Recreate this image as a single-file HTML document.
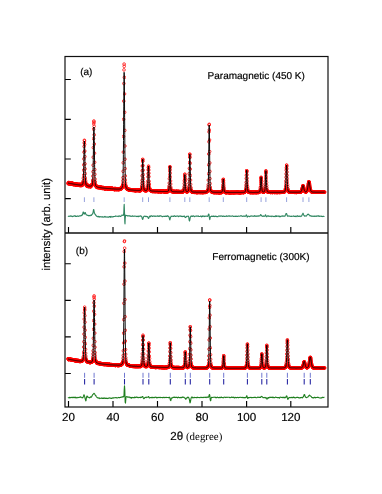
<!DOCTYPE html>
<html><head><meta charset="utf-8"><title>Neutron diffraction</title>
<style>
html,body{margin:0;padding:0;background:#fff}
svg{display:block}
text{font-family:"Liberation Sans",sans-serif;fill:#000;stroke:#000;stroke-width:0.18px;text-rendering:geometricPrecision}
.t{font-size:11.6px}
.s{font-size:10px}
.o{fill:none;stroke:none;marker-start:url(#m);marker-mid:url(#m);marker-end:url(#m)}
.c{fill:none;stroke:#000;stroke-width:0.95;stroke-linejoin:round}
</style></head><body>
<svg width="382" height="494" viewBox="0 0 382 494">
<defs><marker id="m" markerWidth="4" markerHeight="4" refX="2" refY="2" markerUnits="userSpaceOnUse"><circle cx="2" cy="2" r="1.35" fill="none" stroke="#f00" stroke-width="0.75"/></marker></defs>
<rect width="382" height="494" fill="#fff"/>
<polyline class="o" points="68,183.2 68.12,183.7 68.25,183.5 68.38,182.6 68.5,182.8 68.62,183.7 68.75,182.4 68.88,183.7 69,183.7 69.12,183.2 69.25,182.9 69.38,182.9 69.5,182.9 69.62,183.2 69.75,183.4 69.88,183.5 70,184.2 70.12,183.9 70.25,183.6 70.38,184.3 70.5,183.1 70.62,183 70.75,183.7 70.88,182.9 71,182.9 71.12,183.6 71.25,183.6 71.38,184.3 71.5,183.9 71.62,183.7 71.75,183.7 71.88,183.4 72,183 72.12,183.3 72.25,184.1 72.38,183.4 72.5,183.7 72.62,183.1 72.75,184.4 72.88,183.4 73,183.6 73.12,184.6 73.25,184 73.38,184.6 73.5,184.3 73.62,184.5 73.75,183.5 73.88,184.2 74,184.2 74.12,184.7 74.25,184 74.38,184.4 74.5,183.5 74.62,184.1 74.75,184 74.88,183.7 75,184.8 75.12,184.1 75.25,185.1 75.38,184.5 75.5,184.6 75.62,184.6 75.75,184.7 75.88,183.9 76,184.4 76.12,184.1 76.25,184.4 76.38,183.9 76.5,185.3 76.62,184.1 76.75,184.9 76.88,184.3 77,185.2 77.12,184.9 77.25,184.1 77.38,185.2 77.5,185.4 77.62,185.3 77.75,184.8 77.88,184.2 78,184.3 78.12,185.4 78.25,184.9 78.38,184.3 78.5,185.4 78.62,185.1 78.75,185 78.88,184.7 79,184.7 79.12,184.5 79.25,184.2 79.38,185.5 79.5,184.9 79.62,185 79.75,184.7 79.88,185.3 80,184.2 80.12,184.8 80.25,184.3 80.38,184.4 80.5,185.7 80.62,185.2 80.75,184.9 80.88,185 81,185.6 81.12,184.7 81.25,185.1 81.38,185.2 81.5,184.7 81.62,184.9 81.75,185.3 81.88,185.5 82,184.3 82.12,185.4 82.25,183.9 82.38,185 82.5,185 82.62,183.8 82.75,183.9 82.88,184.2 83,182.3 83.12,182.3 83.25,181 83.38,178.2 83.5,175.3 83.62,170.2 83.75,164.8 83.88,158.9 84,152.2 84.12,146.5 84.25,142.9 84.38,140.3 84.5,140.9 84.62,144.4 84.75,151 84.88,156.6 85,163.8 85.12,168.8 85.25,173.6 85.38,177.9 85.5,180.4 85.62,182 85.75,183 85.88,184.4 86,184.2 86.12,185.3 86.25,184.2 86.38,185 86.5,185.2 86.62,186 86.75,185 86.88,185.9 87,185.8 87.12,185.9 87.25,185.9 87.38,186.4 87.5,185.5 87.62,185.6 87.75,185.4 87.88,185.2 88,185.5 88.12,186.6 88.25,186.5 88.38,185.4 88.5,186.2 88.62,186 88.75,186.2 88.88,186.3 89,185.8 89.12,186.8 89.25,186 89.38,186.3 89.5,186.3 89.62,185.6 89.75,185.5 89.88,186 90,186.5 90.12,186.6 90.25,186.5 90.38,185.5 90.5,186.7 90.62,186.5 90.75,186.6 90.88,186.1 91,186.6 91.12,185.3 91.25,185.2 91.38,185.1 91.5,185.4 91.62,185.3 91.75,185.1 91.88,185.5 92,184.6 92.12,185.1 92.25,184.1 92.38,184.3 92.5,182.4 92.62,181.4 92.75,180.1 92.88,176.1 93,171.7 93.12,165.2 93.25,157.2 93.38,147.6 93.5,138.7 93.62,129.2 93.75,123.8 93.88,121 94,122.2 94.12,126.3 94.25,134.8 94.38,144.1 94.5,153.2 94.62,162.3 94.75,169.6 94.88,174.3 95,179 95.12,181.6 95.25,182.4 95.38,184.5 95.5,185.4 95.62,184.9 95.75,185.7 95.88,186.1 96,186.2 96.12,185.6 96.25,186.6 96.38,186.6 96.5,187 96.62,187.1 96.75,186.5 96.88,187.1 97,187.4 97.12,187.5 97.25,186.5 97.38,186.3 97.5,187.3 97.62,186.7 97.75,187.2 97.88,187.8 98,187 98.12,186.9 98.25,187.2 98.38,187.5 98.5,186.7 98.62,187.2 98.75,186.9 98.88,187.6 99,187.9 99.12,187.3 99.25,187.3 99.38,187.6 99.5,187.1 99.62,187.2 99.75,187.3 99.88,187.5 100,187 100.12,188 100.25,187.8 100.38,187.4 100.5,187.1 100.62,188.1 100.75,187.2 100.88,187.2 101,187.2 101.12,187.2 101.25,188.4 101.38,187.5 101.5,187.5 101.62,188.3 101.75,188 101.88,187.4 102,187.8 102.12,188.5 102.25,187.7 102.38,188.2 102.5,187.4 102.62,188.3 102.75,188.4 102.88,188.5 103,188.2 103.12,187.8 103.25,187.4 103.38,188.1 103.5,188.4 103.62,187.6 103.75,187.7 103.88,188.1 104,188.5 104.12,188.7 104.25,187.6 104.38,187.7 104.5,188.6 104.62,188.4 104.75,188.5 104.88,188.9 105,188.8 105.12,188.7 105.25,188.6 105.38,188.1 105.5,188.5 105.62,187.8 105.75,188.7 105.88,188.7 106,188.6 106.12,188.2 106.25,188.2 106.38,188.2 106.5,187.7 106.62,188.9 106.75,188.4 106.88,188.2 107,188.5 107.12,188.7 107.25,188.3 107.38,188.9 107.5,189 107.62,188.3 107.75,188 107.88,188.9 108,189.2 108.12,188 108.25,188.8 108.38,189 108.5,189.1 108.62,188 108.75,188 108.88,189.3 109,188 109.12,188.1 109.25,188.7 109.38,188.5 109.5,189 109.62,188.2 109.75,189.2 109.88,188.3 110,189 110.12,188.1 110.25,188.6 110.38,188 110.5,188.4 110.62,188.5 110.75,189 110.88,188.7 111,188.1 111.12,189.4 111.25,189.3 111.38,189.4 111.5,188.4 111.62,188.6 111.75,188.4 111.88,188.3 112,188.2 112.12,188.8 112.25,188.3 112.38,188.4 112.5,189.4 112.62,188.8 112.75,188.4 112.88,189.1 113,188.6 113.12,188.9 113.25,188.6 113.38,188.9 113.5,189.1 113.62,189 113.75,188.8 113.88,189.3 114,189.5 114.12,188.5 114.25,188.5 114.38,188.4 114.5,189.6 114.62,189.6 114.75,188.6 114.88,189.6 115,188.6 115.12,189 115.25,189 115.38,189.6 115.5,188.4 115.62,188.8 115.75,189.2 115.88,188.5 116,188.7 116.12,189 116.25,189.6 116.38,189.4 116.5,189.5 116.62,189.4 116.75,189.4 116.88,189.6 117,189.3 117.12,189.4 117.25,188.8 117.38,188.6 117.5,189.4 117.62,188.6 117.75,189.7 117.88,189.2 118,188.9 118.12,189.7 118.25,188.6 118.38,189.1 118.5,188.5 118.62,189.7 118.75,189.2 118.88,189.5 119,188.7 119.12,189.4 119.25,189.3 119.38,189.2 119.5,189.6 119.62,188.9 119.75,188.8 119.88,189.2 120,189.4 120.12,188.7 120.25,189.1 120.38,188.4 120.5,188.8 120.62,189.1 120.75,188.1 120.88,188.9 121,187.9 121.12,189.1 121.25,188.4 121.38,188.2 121.5,188.5 121.62,188.1 121.75,188.2 121.88,187.2 122,187.6 122.12,187.4 122.25,187.5 122.38,185.9 122.5,185.9 122.62,185.2 122.75,183.6 122.88,180.7 123,177.6 123.12,171.3 123.25,162.8 123.38,152.1 123.5,136.4 123.62,119.3 123.75,101.1 123.88,83.5 124,69.9 124.12,64.1 124.25,66.3 124.38,77.4 124.5,93.9 124.62,112.3 124.75,130.4 124.88,146 125,159.2 125.12,168.6 125.25,175.9 125.38,179.9 125.5,182.9 125.62,185.1 125.75,185.8 125.88,186.3 126,187.5 126.12,187.3 126.25,188.2 126.38,188.3 126.5,188.1 126.62,188.6 126.75,187.9 126.88,188.5 127,189.2 127.12,188.9 127.25,189 127.38,189.2 127.5,189.3 127.62,189.3 127.75,189.1 127.88,188.9 128,189.1 128.12,189.1 128.25,189.3 128.38,190.1 128.5,189.3 128.62,189.5 128.75,189.4 128.88,189.7 129,190.2 129.12,190.2 129.25,189.5 129.38,189.4 129.5,190.2 129.62,189.8 129.75,190 129.88,189.2 130,190.3 130.12,189.6 130.25,189.9 130.38,189.5 130.5,189.8 130.62,190.3 130.75,190.4 130.88,189.9 131,190.3 131.12,189.9 131.25,189.8 131.38,190.1 131.5,189.6 131.62,189.8 131.75,190.3 131.88,190.4 132,189.5 132.12,190.4 132.25,190.5 132.38,190 132.5,189.5 132.62,190.4 132.75,189.8 132.88,190.3 133,190 133.12,190.3 133.25,189.9 133.38,190.1 133.5,190.2 133.62,190.4 133.75,189.8 133.88,190.8 134,190 134.12,190 134.25,189.9 134.38,189.7 134.5,190.2 134.62,190.6 134.75,190.5 134.88,189.9 135,189.8 135.12,190.1 135.25,190.6 135.38,190.3 135.5,190.9 135.62,190.5 135.75,190.5 135.88,190.7 136,190.7 136.12,190.1 136.25,190 136.38,190.3 136.5,190.3 136.62,189.9 136.75,190.3 136.88,190.6 137,189.9 137.12,189.9 137.25,190 137.38,190.1 137.5,191 137.62,189.8 137.75,190 137.88,190 138,190.4 138.12,189.8 138.25,190.3 138.38,190 138.5,190.1 138.62,190.8 138.75,190 138.88,190.5 139,190.3 139.12,190.3 139.25,190.8 139.38,189.9 139.5,190.9 139.62,190.8 139.75,190.5 139.88,189.7 140,190.5 140.12,190.4 140.25,190.6 140.38,189.8 140.5,190.7 140.62,190.6 140.75,189.6 140.88,189.7 141,189.3 141.12,190.1 141.25,190 141.38,189.7 141.5,188.5 141.62,187.5 141.75,185.9 141.88,183.3 142,180.4 142.12,175.8 142.25,170.7 142.38,166 142.5,161.2 142.62,159.5 142.75,159.3 142.88,161.1 143,165.5 143.12,170.2 143.25,174.6 143.38,178.6 143.5,182.2 143.62,184.9 143.75,186.9 143.88,188.2 144,189.6 144.12,189.2 144.25,190.2 144.38,190.2 144.5,190.5 144.62,190 144.75,189.6 144.88,190.6 145,190 145.12,189.9 145.25,190.7 145.38,190.6 145.5,190 145.62,190.1 145.75,191 145.88,190.1 146,190.7 146.12,190 146.25,190.8 146.38,189.9 146.5,190.4 146.62,189.7 146.75,190.3 146.88,190.6 147,189.5 147.12,189.5 147.25,189.7 147.38,188.8 147.5,187.3 147.62,186.1 147.75,183.6 147.88,181.1 148,176.8 148.12,173.6 148.25,169.9 148.38,167.4 148.5,166.1 148.62,167.4 148.75,170 148.88,173.2 149,176.6 149.12,181.3 149.25,184 149.38,185.7 149.5,188 149.62,188.5 149.75,189.5 149.88,190.4 150,190.1 150.12,190.1 150.25,190.2 150.38,190.1 150.5,190.3 150.62,190.4 150.75,190.3 150.88,190.2 151,190.8 151.12,190.5 151.25,191.2 151.38,191.4 151.5,190.6 151.62,191 151.75,191 151.88,190.5 152,190.5 152.12,191.5 152.25,191 152.38,191.4 152.5,190.5 152.62,191.2 152.75,191.5 152.88,191.5 153,190.5 153.12,191.1 153.25,191 153.38,191.4 153.5,190.6 153.62,190.9 153.75,191.5 153.88,191.1 154,191.1 154.12,191.7 154.25,191 154.38,190.6 154.5,191.1 154.62,190.8 154.75,190.7 154.88,191.3 155,191.8 155.12,191.3 155.25,191.4 155.38,191 155.5,191.3 155.62,191.6 155.75,191.4 155.88,191.6 156,191.3 156.12,190.9 156.25,191.4 156.38,191.3 156.5,190.9 156.62,191.4 156.75,191.7 156.88,190.9 157,191.4 157.12,191.6 157.25,191.2 157.38,191.1 157.5,191.2 157.62,191.4 157.75,191.6 157.88,191.4 158,190.9 158.12,191.7 158.25,191.9 158.38,190.9 158.5,191.1 158.62,191 158.75,191.8 158.88,191.9 159,190.8 159.12,191.2 159.25,191 159.38,191.4 159.5,191.9 159.62,190.9 159.75,191 159.88,191.4 160,191.4 160.12,191.7 160.25,191.4 160.38,191 160.5,191.3 160.62,192 160.75,191.7 160.88,191 161,191.8 161.12,191.2 161.25,191.8 161.38,190.9 161.5,191.9 161.62,191.1 161.75,191.4 161.88,191.7 162,191.5 162.12,191.1 162.25,191.1 162.38,191.2 162.5,191 162.62,191.2 162.75,191.1 162.88,191.5 163,191.3 163.12,191.6 163.25,191.3 163.38,191 163.5,191.3 163.62,191.8 163.75,191.2 163.88,191.4 164,191.8 164.12,191.4 164.25,192 164.38,192 164.5,191.3 164.62,191.8 164.75,191.2 164.88,191.1 165,191.5 165.12,191.6 165.25,192 165.38,191.1 165.5,191.8 165.62,191.5 165.75,191.1 165.88,192.1 166,191.7 166.12,191.1 166.25,192 166.38,191 166.5,191 166.62,191.3 166.75,192 166.88,190.9 167,191.9 167.12,191.6 167.25,190.9 167.38,191.5 167.5,191.3 167.62,191.4 167.75,191.6 167.88,191.5 168,191.8 168.12,190.8 168.25,191.4 168.38,190.9 168.5,191.1 168.62,190.9 168.75,190.5 168.88,188.8 169,187.6 169.12,186 169.25,183.1 169.38,178.8 169.5,175.4 169.62,170.8 169.75,167.7 169.88,166.6 170,166.9 170.12,169.5 170.25,173.2 170.38,177.3 170.5,180.9 170.62,184 170.75,187.2 170.88,188.7 171,189.9 171.12,190.7 171.25,190.4 171.38,190.7 171.5,190.9 171.62,191 171.75,191.6 171.88,191.2 172,191.2 172.12,191.6 172.25,191.1 172.38,191.1 172.5,191.8 172.62,191.9 172.75,191.4 172.88,191.8 173,191.1 173.12,191.5 173.25,191.7 173.38,191.4 173.5,191.5 173.62,191.8 173.75,191.8 173.88,191.3 174,192 174.12,191.3 174.25,192.3 174.38,191.4 174.5,191.5 174.62,191.4 174.75,192.3 174.88,191.5 175,191.9 175.12,192.3 175.25,192.3 175.38,191.3 175.5,191.8 175.62,191.9 175.75,192 175.88,191.6 176,191.6 176.12,191.3 176.25,191.3 176.38,191.9 176.5,191.4 176.62,191.5 176.75,191.7 176.88,191.4 177,191.3 177.12,192.3 177.25,191.8 177.38,191.5 177.5,192.1 177.62,191.3 177.75,191.6 177.88,192.4 178,192.3 178.12,192 178.25,191.4 178.38,191.7 178.5,191.4 178.62,191.6 178.75,191.4 178.88,191.5 179,192 179.12,191.5 179.25,191.5 179.38,192.3 179.5,191.7 179.62,191.7 179.75,191.4 179.88,192.2 180,192.1 180.12,191.9 180.25,192 180.38,191.5 180.5,191.6 180.62,192 180.75,192.4 180.88,192.2 181,192 181.12,191.9 181.25,191.3 181.38,192.3 181.5,191.4 181.62,191.5 181.75,192 181.88,192.2 182,192.1 182.12,191.8 182.25,191.5 182.38,191.3 182.5,192.1 182.62,192.2 182.75,191.4 182.88,192.1 183,191.5 183.12,191.4 183.25,191.5 183.38,190.9 183.5,191.1 183.62,190.5 183.75,190.5 183.88,189.4 184,188.4 184.12,186.6 184.25,183.6 184.38,180.8 184.5,178.8 184.62,176 184.75,174.3 184.88,174.4 185,176.9 185.12,178.9 185.25,181.1 185.38,184.3 185.5,186.6 185.62,188.3 185.75,190 185.88,190.8 186,190.5 186.12,190.8 186.25,191.2 186.38,191.8 186.5,191.6 186.62,191.8 186.75,191.6 186.88,191.2 187,191.9 187.12,191 187.25,191.7 187.38,191.2 187.5,191.5 187.62,191.9 187.75,191.4 187.88,190.9 188,191.2 188.12,191.3 188.25,190.5 188.38,190.5 188.5,189.8 188.62,189.6 188.75,188.2 188.88,186.4 189,183.2 189.12,179.5 189.25,173.7 189.38,168.4 189.5,162.4 189.62,156.8 189.75,154 189.88,154.7 190,157.5 190.12,163.4 190.25,169.1 190.38,175.5 190.5,180.1 190.62,184.3 190.75,187.4 190.88,188.3 191,190.1 191.12,190.5 191.25,190.8 191.38,191 191.5,190.9 191.62,191.2 191.75,191.6 191.88,191.2 192,191.8 192.12,192.2 192.25,192.2 192.38,192.2 192.5,192.1 192.62,191.5 192.75,192.4 192.88,191.6 193,192.3 193.12,192.3 193.25,192.1 193.38,192 193.5,191.7 193.62,192 193.75,191.8 193.88,191.7 194,191.7 194.12,192.4 194.25,192.5 194.38,191.7 194.5,191.6 194.62,191.9 194.75,191.7 194.88,191.8 195,192.2 195.12,192 195.25,192.1 195.38,191.8 195.5,192.3 195.62,191.9 195.75,192 195.88,192.1 196,192.6 196.12,191.9 196.25,192.4 196.38,192 196.5,192.6 196.62,192.1 196.75,192.2 196.88,192.6 197,192.4 197.12,191.8 197.25,191.8 197.38,192.7 197.5,191.7 197.62,192 197.75,192.6 197.88,191.7 198,191.9 198.12,191.9 198.25,191.8 198.38,192.2 198.5,192.3 198.62,192 198.75,191.8 198.88,192.5 199,192.5 199.12,192.3 199.25,191.9 199.38,192.3 199.5,192.3 199.62,192.1 199.75,192.6 199.88,192.1 200,192.2 200.12,191.8 200.25,192.3 200.38,192.5 200.5,192.4 200.62,192 200.75,192.7 200.88,192.4 201,192.1 201.12,192.1 201.25,192.5 201.38,191.9 201.5,192.4 201.62,192.4 201.75,192.2 201.88,192.6 202,192.2 202.12,192.2 202.25,192 202.38,192.6 202.5,192 202.62,192.4 202.75,192.1 202.88,192.6 203,192.6 203.12,191.7 203.25,192.7 203.38,192.3 203.5,191.8 203.62,192.2 203.75,191.7 203.88,192.2 204,191.9 204.12,192 204.25,192 204.38,192.2 204.5,192.4 204.62,192.5 204.75,192 204.88,192.2 205,191.6 205.12,192 205.25,192.5 205.38,191.7 205.5,192.4 205.62,192.2 205.75,191.8 205.88,192.2 206,191.7 206.12,192.3 206.25,191.5 206.38,191.5 206.5,192 206.62,191.7 206.75,191.3 206.88,191.6 207,191.3 207.12,191.5 207.25,191.5 207.38,191.5 207.5,190.6 207.62,190.8 207.75,190.9 207.88,189.8 208,189.1 208.12,186.9 208.25,184.8 208.38,180.1 208.5,173.8 208.62,164.8 208.75,154 208.88,141.7 209,131.9 209.12,124.9 209.25,124.3 209.38,129.9 209.5,139.9 209.62,151.5 209.75,162.9 209.88,171.4 210,178.6 210.12,183.6 210.25,187.1 210.38,188.7 210.5,189.7 210.62,190.6 210.75,190.9 210.88,190.8 211,190.8 211.12,191.3 211.25,191.8 211.38,191.6 211.5,191.2 211.62,191.6 211.75,191.6 211.88,191.9 212,191.9 212.12,192.3 212.25,191.8 212.38,191.9 212.5,192.1 212.62,192.4 212.75,192.3 212.88,192.1 213,192.4 213.12,192.1 213.25,192.6 213.38,192 213.5,191.8 213.62,192.5 213.75,192 213.88,192.5 214,192.3 214.12,192.2 214.25,191.9 214.38,192.5 214.5,191.9 214.62,192.7 214.75,192.6 214.88,192.1 215,191.9 215.12,192.6 215.25,192.3 215.38,192 215.5,192.3 215.62,192.1 215.75,192.2 215.88,192.4 216,192.7 216.12,192.6 216.25,192 216.38,192.3 216.5,192.3 216.62,192.8 216.75,192 216.88,192.3 217,192.7 217.12,192.2 217.25,192.1 217.38,192.4 217.5,192.2 217.62,192.7 217.75,192 217.88,192.1 218,192 218.12,192.5 218.25,192.2 218.38,192.7 218.5,192.7 218.62,192.7 218.75,192.1 218.88,191.9 219,192.2 219.12,192.8 219.25,192.6 219.38,191.9 219.5,192.5 219.62,192.7 219.75,192.8 219.88,192.5 220,192.7 220.12,192.6 220.25,192.2 220.38,192 220.5,192.5 220.62,192 220.75,192.2 220.88,192.7 221,192.3 221.12,192.3 221.25,192.6 221.38,192 221.5,192.6 221.62,192.5 221.75,192 221.88,191.9 222,191.6 222.12,192.1 222.25,191.1 222.38,190.3 222.5,190.2 222.62,188.6 222.75,186.9 222.88,184.8 223,182 223.12,180.2 223.25,179.5 223.38,179.2 223.5,180.8 223.62,183 223.75,185.2 223.88,187.2 224,188.4 224.12,189.8 224.25,191.3 224.38,191.1 224.5,191.8 224.62,191.6 224.75,192.4 224.88,191.8 225,192.1 225.12,192.2 225.25,192.4 225.38,192.6 225.5,192.5 225.62,192.2 225.75,191.9 225.88,192.5 226,192.7 226.12,191.9 226.25,192.6 226.38,192.1 226.5,192.3 226.62,192.4 226.75,192.5 226.88,192.8 227,192.5 227.12,192.3 227.25,192.6 227.38,192.4 227.5,192.3 227.62,192.3 227.75,192.4 227.88,192.2 228,192.2 228.12,192.1 228.25,192.4 228.38,192.2 228.5,192.7 228.62,192.7 228.75,192.3 228.88,192.5 229,192.8 229.12,192.3 229.25,192.5 229.38,192.4 229.5,192.6 229.62,192.8 229.75,192.1 229.88,192.8 230,192.6 230.12,192.7 230.25,192.5 230.38,192.7 230.5,192.3 230.62,192.6 230.75,192.2 230.88,192.4 231,192.6 231.12,192.2 231.25,192.1 231.38,192.7 231.5,192.7 231.62,192.6 231.75,192.3 231.88,192.6 232,192.1 232.12,192.6 232.25,192.5 232.38,192.5 232.5,192.4 232.62,192.2 232.75,192.6 232.88,192.4 233,192.6 233.12,192.3 233.25,192.1 233.38,192.5 233.5,192.5 233.62,192.8 233.75,192.8 233.88,192.1 234,192.7 234.12,192.2 234.25,192.6 234.38,192.3 234.5,192.3 234.62,192.4 234.75,192.5 234.88,192.6 235,192.5 235.12,192.6 235.25,192.3 235.38,192.6 235.5,192.3 235.62,192.5 235.75,192.4 235.88,192.5 236,192 236.12,192.4 236.25,192.2 236.38,192.3 236.5,192.1 236.62,192.6 236.75,192.8 236.88,192.3 237,192.1 237.12,192.5 237.25,192.1 237.38,192.7 237.5,192.1 237.62,192.3 237.75,192.4 237.88,192.1 238,192.3 238.12,192.2 238.25,192.6 238.38,192.8 238.5,192.3 238.62,192.7 238.75,192.1 238.88,192.5 239,192.4 239.12,192.2 239.25,192.7 239.38,192.6 239.5,192.1 239.62,192.2 239.75,192.7 239.88,192.8 240,192.5 240.12,192.7 240.25,192.8 240.38,192.6 240.5,192.5 240.62,192.2 240.75,192.3 240.88,192.5 241,192.7 241.12,192.2 241.25,192.3 241.38,192 241.5,192.5 241.62,192.3 241.75,192.6 241.88,192.2 242,192.5 242.12,192.5 242.25,192.3 242.38,192.1 242.5,192.3 242.62,192.5 242.75,192.1 242.88,192 243,192.3 243.12,192.1 243.25,192.5 243.38,192.5 243.5,192.6 243.62,192.5 243.75,192.4 243.88,192 244,192.5 244.12,192.4 244.25,192.4 244.38,192.3 244.5,192.4 244.62,191.9 244.75,192.2 244.88,192 245,191.8 245.12,191.6 245.25,191.3 245.38,191.3 245.5,190.8 245.62,190.1 245.75,189.2 245.88,187.4 246,185.1 246.12,182.4 246.25,178.5 246.38,175.3 246.5,172.1 246.62,170.5 246.75,170.8 246.88,171.6 247,174.8 247.12,178.3 247.25,181.4 247.38,184.6 247.5,186.8 247.62,188.5 247.75,189.9 247.88,190.5 248,191.1 248.12,191.4 248.25,192.1 248.38,191.7 248.5,191.7 248.62,192.3 248.75,191.8 248.88,192.4 249,192.4 249.12,192.3 249.25,192.1 249.38,192 249.5,191.9 249.62,191.9 249.75,192.1 249.88,192.2 250,192.6 250.12,192.3 250.25,192.7 250.38,192.5 250.5,192 250.62,192.3 250.75,192.1 250.88,192 251,192.7 251.12,192.2 251.25,192.1 251.38,192 251.5,192.5 251.62,192.3 251.75,192 251.88,192.5 252,192.2 252.12,192.6 252.25,192.3 252.38,192.4 252.5,192.3 252.62,192.5 252.75,192.7 252.88,192.6 253,192 253.12,192.4 253.25,192.2 253.38,192.1 253.5,192.1 253.62,192.2 253.75,192.7 253.88,192.5 254,192.6 254.12,192.5 254.25,192.2 254.38,192.3 254.5,192.3 254.62,192.2 254.75,192.3 254.88,192.6 255,192 255.12,192.2 255.25,192.3 255.38,192.5 255.5,192.5 255.62,192.5 255.75,192.1 255.88,192.1 256,192.2 256.12,192.2 256.25,192.5 256.38,192.7 256.5,192.5 256.62,192 256.75,192.2 256.88,192.5 257,192.6 257.12,192.4 257.25,192.2 257.38,192.2 257.5,192.4 257.62,192.5 257.75,192.2 257.88,192 258,191.9 258.12,192 258.25,192.5 258.38,192.3 258.5,192.6 258.62,191.9 258.75,192.1 258.88,192.4 259,192.2 259.12,191.8 259.25,192 259.38,192.1 259.5,192.1 259.62,191.8 259.75,191.4 259.88,191.7 260,190.9 260.12,190.3 260.25,189.1 260.38,187.3 260.5,185.5 260.62,183.2 260.75,180.9 260.88,178.9 261,177.6 261.12,177.2 261.25,178 261.38,180.1 261.5,181.7 261.62,184.1 261.75,186.7 261.88,188.2 262,189.5 262.12,190.3 262.25,191.1 262.38,191.2 262.5,191.9 262.62,192 262.75,191.7 262.88,191.5 263,192.2 263.12,191.8 263.25,192 263.38,192.2 263.5,192.1 263.62,192.2 263.75,191.9 263.88,192.1 264,191.8 264.12,191.6 264.25,191.7 264.38,191.5 264.5,191.6 264.62,191.3 264.75,190.3 264.88,189.4 265,188.2 265.12,186.4 265.25,184.3 265.38,181.2 265.5,177.9 265.62,174.6 265.75,172.1 265.88,170.7 266,171.3 266.12,173 266.25,176.6 266.38,179.5 266.5,182.5 266.62,185.4 266.75,187.6 266.88,189.4 267,189.9 267.12,190.7 267.25,191.6 267.38,191.8 267.5,191.8 267.62,191.9 267.75,191.7 267.88,192.2 268,192.2 268.12,192 268.25,191.8 268.38,191.9 268.5,192 268.62,192 268.75,191.9 268.88,192.1 269,192.1 269.12,192 269.25,192.1 269.38,192.1 269.5,192.1 269.62,192.3 269.75,192.2 269.88,192 270,192.4 270.12,192.3 270.25,192.2 270.38,192.4 270.5,192.4 270.62,192.5 270.75,192.5 270.88,192.4 271,192.4 271.12,192.1 271.25,192.4 271.38,192.1 271.5,192.1 271.62,192 271.75,192.2 271.88,192 272,192.4 272.12,192.5 272.25,192.5 272.38,192.1 272.5,192.4 272.62,192.5 272.75,192 272.88,192.1 273,192.2 273.12,192.3 273.25,192.1 273.38,192.3 273.5,192.2 273.62,192.4 273.75,192.3 273.88,192.4 274,192.1 274.12,192.4 274.25,192.5 274.38,192.4 274.5,192 274.62,192.6 274.75,192.3 274.88,192.2 275,192.3 275.12,192.3 275.25,192.3 275.38,192.1 275.5,192.2 275.62,192.2 275.75,192.5 275.88,192.3 276,192 276.12,192.3 276.25,192.1 276.38,192 276.5,192.6 276.62,192.2 276.75,192.3 276.88,192.2 277,192 277.12,192.5 277.25,192.6 277.38,192.1 277.5,192.2 277.62,192.2 277.75,192.1 277.88,192.4 278,192.5 278.12,192.4 278.25,192.4 278.38,192 278.5,192.1 278.62,192.3 278.75,192.4 278.88,192.2 279,192.2 279.12,192.5 279.25,192 279.38,192.1 279.5,192.1 279.62,192.6 279.75,192.1 279.88,192 280,192.2 280.12,192.3 280.25,192 280.38,192.4 280.5,192.1 280.62,192.4 280.75,192 280.88,192.5 281,192 281.12,192.4 281.25,192.4 281.38,192.1 281.5,192 281.62,192.2 281.75,192.2 281.88,192.2 282,192.3 282.12,192.1 282.25,192.2 282.38,192.1 282.5,192.1 282.62,192.1 282.75,191.9 282.88,192 283,192 283.12,191.9 283.25,192.2 283.38,191.8 283.5,191.8 283.62,192 283.75,191.9 283.88,191.8 284,191.8 284.12,191.9 284.25,191.9 284.38,192 284.5,191.9 284.62,191.6 284.75,191.5 284.88,191.3 285,190.9 285.12,190.9 285.25,189.7 285.38,188.9 285.5,187.8 285.62,186 285.75,183.5 285.88,180.9 286,177.3 286.12,173.9 286.25,170.2 286.38,167.8 286.5,165.4 286.62,165.1 286.75,166.5 286.88,168.8 287,172 287.12,175.4 287.25,178.6 287.38,181.6 287.5,184.6 287.62,186.5 287.75,188.6 287.88,189.2 288,190.2 288.12,190.6 288.25,190.9 288.38,191.4 288.5,191.3 288.62,191.9 288.75,191.8 288.88,191.7 289,192 289.12,192 289.25,191.8 289.38,192.1 289.5,192.2 289.62,192 289.75,191.9 289.88,192.2 290,192.3 290.12,192 290.25,191.8 290.38,192.3 290.5,192.2 290.62,192 290.75,192.2 290.88,192 291,192.4 291.12,192 291.25,192 291.38,191.9 291.5,192.1 291.62,192.4 291.75,192 291.88,192.1 292,192.4 292.12,191.9 292.25,192.1 292.38,192.4 292.5,192 292.62,192.4 292.75,192.4 292.88,192 293,192.2 293.12,192.2 293.25,192.3 293.38,192.1 293.5,192.1 293.62,192.1 293.75,192.1 293.88,192 294,192.4 294.12,192.4 294.25,192.1 294.38,192.3 294.5,192.2 294.62,192.1 294.75,192.1 294.88,192.5 295,192.1 295.12,192.2 295.25,192.4 295.38,192.1 295.5,192.4 295.62,192 295.75,192.3 295.88,192.4 296,192.4 296.12,192.5 296.25,192.3 296.38,192.5 296.5,192.1 296.62,192.2 296.75,192 296.88,192 297,192.2 297.12,192.3 297.25,192.3 297.38,191.9 297.5,192.4 297.62,192 297.75,192.1 297.88,192.3 298,192.4 298.12,192.3 298.25,192.1 298.38,192.1 298.5,192.3 298.62,192.1 298.75,192.3 298.88,192.3 299,192.1 299.12,192.3 299.25,192.1 299.38,192.2 299.5,192.2 299.62,192 299.75,192.1 299.88,192.1 300,192.1 300.12,191.8 300.25,192.3 300.38,192.2 300.5,191.7 300.62,192.2 300.75,191.9 300.88,191.6 301,191.9 301.12,191.5 301.25,191.5 301.38,191.3 301.5,190.9 301.62,190.3 301.75,190.3 301.88,189.8 302,189.4 302.12,188.6 302.25,188.3 302.38,187.7 302.5,186.9 302.62,186.5 302.75,186.1 302.88,185.6 303,185.7 303.12,185.8 303.25,185.9 303.38,186.6 303.5,186.9 303.62,187.5 303.75,188 303.88,188.6 304,189.3 304.12,189.6 304.25,190.1 304.38,190.4 304.5,190.8 304.62,191.3 304.75,191.2 304.88,191.4 305,191.6 305.12,191.4 305.25,191.9 305.38,191.7 305.5,191.6 305.62,191.9 305.75,191.9 305.88,191.8 306,192 306.12,191.5 306.25,191.7 306.38,191.7 306.5,191.7 306.62,191.4 306.75,191.3 306.88,190.9 307,190.8 307.12,190.4 307.25,190.2 307.38,189.6 307.5,189 307.62,188.5 307.75,187.3 307.88,186.9 308,185.9 308.12,185.2 308.25,184.1 308.38,183.4 308.5,182.9 308.62,182 308.75,181.7 308.88,181.6 309,181.9 309.12,181.9 309.25,182.7 309.38,183 309.5,183.8 309.62,184.8 309.75,185.7 309.88,186.6 310,187.4 310.12,187.9 310.25,188.8 310.38,189.4 310.5,189.8 310.62,190.4 310.75,190.8 310.88,190.9 311,191.4 311.12,191.2 311.25,191.4 311.38,191.8 311.5,191.6 311.62,191.8 311.75,191.9 311.88,191.7 312,192 312.12,192.1 312.25,191.8 312.38,191.9 312.5,192.1 312.62,192.2 312.75,192.2 312.88,192 313,192 313.12,192 313.25,191.9 313.38,192.1 313.5,192 313.62,191.9 313.75,192 313.88,191.9 314,192.1 314.12,192.2 314.25,192.2 314.38,192.3 314.5,192.3 314.62,192.2 314.75,192.3 314.88,192.1 315,192.3 315.12,192.1 315.25,192.2 315.38,192.4 315.5,192.2 315.62,192.2 315.75,192.3 315.88,192.1 316,192.3 316.12,192 316.25,192.1 316.38,192 316.5,192.1 316.62,192.4 316.75,192 316.88,192.1 317,192.2 317.12,192.3 317.25,192.3 317.38,192.1 317.5,192.1 317.62,192.3 317.75,192 317.88,192 318,192.1 318.12,192.2 318.25,192.4 318.38,192.3 318.5,192.2 318.62,192.2 318.75,192.3 318.88,192.2 319,192.1 319.12,192 319.25,192.1 319.38,192.3 319.5,192.3 319.62,192.3 319.75,192 319.88,192.4 320,192.1 320.12,192.4 320.25,192.2 320.38,192.2 320.5,192.3 320.62,192.3 320.75,192.3 320.88,192.1 321,192.2 321.12,192.1 321.25,192 321.38,192 321.5,192.2 321.62,192.1 321.75,192.3 321.88,192 322,192 322.12,192.4 322.25,192.1 322.38,192.2 322.5,192.1 322.62,192.1 322.75,192.2 322.88,192.3 323,192 323.12,192.3 323.25,192.4 323.38,192.2 323.5,192.1 323.62,192.1 323.75,192.1 323.88,192.1 324,192.3 324.12,192 324.25,192.3 324.38,192.3 324.5,192 324.62,192"/>
<polyline class="c" points="68,183 68.12,183 68.25,183.1 68.38,183.1 68.5,183.1 68.62,183.1 68.75,183.2 68.88,183.2 69,183.2 69.12,183.2 69.25,183.3 69.38,183.3 69.5,183.3 69.62,183.3 69.75,183.4 69.88,183.4 70,183.4 70.12,183.4 70.25,183.5 70.38,183.5 70.5,183.5 70.62,183.5 70.75,183.6 70.88,183.6 71,183.6 71.12,183.6 71.25,183.6 71.38,183.7 71.5,183.7 71.62,183.7 71.75,183.7 71.88,183.8 72,183.8 72.12,183.8 72.25,183.8 72.38,183.9 72.5,183.9 72.62,183.9 72.75,183.9 72.88,183.9 73,184 73.12,184 73.25,184 73.38,184 73.5,184.1 73.62,184.1 73.75,184.1 73.88,184.1 74,184.1 74.12,184.2 74.25,184.2 74.38,184.2 74.5,184.2 74.62,184.2 74.75,184.3 74.88,184.3 75,184.3 75.12,184.3 75.25,184.4 75.38,184.4 75.5,184.4 75.62,184.4 75.75,184.4 75.88,184.5 76,184.5 76.12,184.5 76.25,184.5 76.38,184.5 76.5,184.6 76.62,184.6 76.75,184.6 76.88,184.6 77,184.6 77.12,184.6 77.25,184.7 77.38,184.7 77.5,184.7 77.62,184.7 77.75,184.7 77.88,184.7 78,184.8 78.12,184.8 78.25,184.8 78.38,184.8 78.5,184.8 78.62,184.8 78.75,184.9 78.88,184.9 79,184.9 79.12,184.9 79.25,184.9 79.38,184.9 79.5,184.9 79.62,184.9 79.75,185 79.88,185 80,185 80.12,185 80.25,185 80.38,185 80.5,185 80.62,185 80.75,185 80.88,185 81,185 81.12,185 81.25,185 81.38,185 81.5,184.9 81.62,184.9 81.75,184.9 81.88,184.9 82,184.8 82.12,184.8 82.25,184.7 82.38,184.6 82.5,184.5 82.62,184.3 82.75,184.1 82.88,183.7 83,183.1 83.12,182.1 83.25,180.6 83.38,178.4 83.5,175.2 83.62,170.9 83.75,165.6 83.88,159.6 84,153.3 84.12,147.4 84.25,143 84.38,141 84.5,141.9 84.62,145.5 84.75,150.9 84.88,157.2 85,163.5 85.12,169.1 85.25,173.8 85.38,177.5 85.5,180.1 85.62,181.9 85.75,183.1 85.88,183.9 86,184.4 86.12,184.7 86.25,184.9 86.38,185.1 86.5,185.2 86.62,185.3 86.75,185.4 86.88,185.5 87,185.6 87.12,185.6 87.25,185.7 87.38,185.7 87.5,185.8 87.62,185.8 87.75,185.9 87.88,185.9 88,185.9 88.12,185.9 88.25,186 88.38,186 88.5,186 88.62,186 88.75,186.1 88.88,186.1 89,186.1 89.12,186.1 89.25,186.1 89.38,186.1 89.5,186.1 89.62,186.2 89.75,186.2 89.88,186.2 90,186.2 90.12,186.2 90.25,186.2 90.38,186.1 90.5,186.1 90.62,186.1 90.75,186.1 90.88,186.1 91,186.1 91.12,186 91.25,186 91.38,185.9 91.5,185.9 91.62,185.8 91.75,185.7 91.88,185.6 92,185.4 92.12,185.2 92.25,184.9 92.38,184.3 92.5,183.5 92.62,182.2 92.75,180.2 92.88,177.1 93,172.8 93.12,167.1 93.25,160.1 93.38,152 93.5,143.5 93.62,135.6 93.75,129.7 93.88,127 94,128.2 94.12,133 94.25,140.3 94.38,148.7 94.5,157.1 94.62,164.7 94.75,171 94.88,175.8 95,179.4 95.12,181.8 95.25,183.4 95.38,184.4 95.5,185.1 95.62,185.5 95.75,185.8 95.88,186 96,186.2 96.12,186.3 96.25,186.4 96.38,186.5 96.5,186.6 96.62,186.7 96.75,186.8 96.88,186.8 97,186.9 97.12,187 97.25,187 97.38,187.1 97.5,187.1 97.62,187.1 97.75,187.2 97.88,187.2 98,187.2 98.12,187.3 98.25,187.3 98.38,187.3 98.5,187.4 98.62,187.4 98.75,187.4 98.88,187.4 99,187.5 99.12,187.5 99.25,187.5 99.38,187.5 99.5,187.5 99.62,187.6 99.75,187.6 99.88,187.6 100,187.6 100.12,187.6 100.25,187.7 100.38,187.7 100.5,187.7 100.62,187.7 100.75,187.7 100.88,187.8 101,187.8 101.12,187.8 101.25,187.8 101.38,187.8 101.5,187.8 101.62,187.8 101.75,187.9 101.88,187.9 102,187.9 102.12,187.9 102.25,187.9 102.38,187.9 102.5,188 102.62,188 102.75,188 102.88,188 103,188 103.12,188 103.25,188 103.38,188 103.5,188.1 103.62,188.1 103.75,188.1 103.88,188.1 104,188.1 104.12,188.1 104.25,188.1 104.38,188.2 104.5,188.2 104.62,188.2 104.75,188.2 104.88,188.2 105,188.2 105.12,188.2 105.25,188.2 105.38,188.3 105.5,188.3 105.62,188.3 105.75,188.3 105.88,188.3 106,188.3 106.12,188.3 106.25,188.3 106.38,188.4 106.5,188.4 106.62,188.4 106.75,188.4 106.88,188.4 107,188.4 107.12,188.4 107.25,188.4 107.38,188.4 107.5,188.5 107.62,188.5 107.75,188.5 107.88,188.5 108,188.5 108.12,188.5 108.25,188.5 108.38,188.5 108.5,188.5 108.62,188.6 108.75,188.6 108.88,188.6 109,188.6 109.12,188.6 109.25,188.6 109.38,188.6 109.5,188.6 109.62,188.6 109.75,188.6 109.88,188.7 110,188.7 110.12,188.7 110.25,188.7 110.38,188.7 110.5,188.7 110.62,188.7 110.75,188.7 110.88,188.7 111,188.7 111.12,188.8 111.25,188.8 111.38,188.8 111.5,188.8 111.62,188.8 111.75,188.8 111.88,188.8 112,188.8 112.12,188.8 112.25,188.8 112.38,188.9 112.5,188.9 112.62,188.9 112.75,188.9 112.88,188.9 113,188.9 113.12,188.9 113.25,188.9 113.38,188.9 113.5,188.9 113.62,188.9 113.75,188.9 113.88,189 114,189 114.12,189 114.25,189 114.38,189 114.5,189 114.62,189 114.75,189 114.88,189 115,189 115.12,189 115.25,189 115.38,189 115.5,189 115.62,189 115.75,189.1 115.88,189.1 116,189.1 116.12,189.1 116.25,189.1 116.38,189.1 116.5,189.1 116.62,189.1 116.75,189.1 116.88,189.1 117,189.1 117.12,189.1 117.25,189.1 117.38,189.1 117.5,189.1 117.62,189.1 117.75,189.1 117.88,189.1 118,189.1 118.12,189.1 118.25,189.1 118.38,189.1 118.5,189.1 118.62,189.1 118.75,189.1 118.88,189.1 119,189.1 119.12,189.1 119.25,189.1 119.38,189 119.5,189 119.62,189 119.75,189 119.88,189 120,188.9 120.12,188.9 120.25,188.9 120.38,188.9 120.5,188.8 120.62,188.8 120.75,188.7 120.88,188.7 121,188.6 121.12,188.6 121.25,188.5 121.38,188.4 121.5,188.3 121.62,188.2 121.75,188 121.88,187.9 122,187.7 122.12,187.4 122.25,187.1 122.38,186.8 122.5,186.2 122.62,185.3 122.75,184 122.88,181.8 123,178.3 123.12,172.9 123.25,165.1 123.38,154.3 123.5,140.5 123.62,124.2 123.75,106.9 123.88,90.6 124,78.1 124.12,72.3 124.25,74.9 124.38,85 124.5,100.1 124.62,117.4 124.75,134.3 124.88,149.2 125,161.2 125.12,170.2 125.25,176.6 125.38,180.8 125.5,183.4 125.62,185.1 125.75,186.1 125.88,186.8 126,187.2 126.12,187.6 126.25,187.9 126.38,188.1 126.5,188.3 126.62,188.4 126.75,188.6 126.88,188.7 127,188.8 127.12,188.9 127.25,189 127.38,189.1 127.5,189.1 127.62,189.2 127.75,189.3 127.88,189.3 128,189.4 128.12,189.4 128.25,189.5 128.38,189.5 128.5,189.5 128.62,189.6 128.75,189.6 128.88,189.6 129,189.7 129.12,189.7 129.25,189.7 129.38,189.7 129.5,189.8 129.62,189.8 129.75,189.8 129.88,189.8 130,189.8 130.12,189.9 130.25,189.9 130.38,189.9 130.5,189.9 130.62,189.9 130.75,189.9 130.88,190 131,190 131.12,190 131.25,190 131.38,190 131.5,190 131.62,190 131.75,190.1 131.88,190.1 132,190.1 132.12,190.1 132.25,190.1 132.38,190.1 132.5,190.1 132.62,190.1 132.75,190.1 132.88,190.2 133,190.2 133.12,190.2 133.25,190.2 133.38,190.2 133.5,190.2 133.62,190.2 133.75,190.2 133.88,190.2 134,190.2 134.12,190.2 134.25,190.2 134.38,190.3 134.5,190.3 134.62,190.3 134.75,190.3 134.88,190.3 135,190.3 135.12,190.3 135.25,190.3 135.38,190.3 135.5,190.3 135.62,190.3 135.75,190.3 135.88,190.3 136,190.3 136.12,190.3 136.25,190.4 136.38,190.4 136.5,190.4 136.62,190.4 136.75,190.4 136.88,190.4 137,190.4 137.12,190.4 137.25,190.4 137.38,190.4 137.5,190.4 137.62,190.4 137.75,190.4 137.88,190.4 138,190.4 138.12,190.4 138.25,190.4 138.38,190.4 138.5,190.4 138.62,190.4 138.75,190.4 138.88,190.4 139,190.4 139.12,190.4 139.25,190.4 139.38,190.4 139.5,190.4 139.62,190.3 139.75,190.3 139.88,190.3 140,190.3 140.12,190.3 140.25,190.2 140.38,190.2 140.5,190.2 140.62,190.1 140.75,190.1 140.88,190 141,189.9 141.12,189.7 141.25,189.5 141.38,189.1 141.5,188.4 141.62,187.3 141.75,185.7 141.88,183.2 142,179.9 142.12,175.7 142.25,170.9 142.38,166.1 142.5,161.9 142.62,159.4 142.75,159.1 142.88,161.3 143,165.2 143.12,170 143.25,174.8 143.38,179.2 143.5,182.7 143.62,185.3 143.75,187.1 143.88,188.3 144,189 144.12,189.5 144.25,189.8 144.38,189.9 144.5,190 144.62,190.1 144.75,190.2 144.88,190.3 145,190.3 145.12,190.3 145.25,190.4 145.38,190.4 145.5,190.4 145.62,190.4 145.75,190.4 145.88,190.4 146,190.4 146.12,190.4 146.25,190.4 146.38,190.4 146.5,190.3 146.62,190.3 146.75,190.2 146.88,190.1 147,190 147.12,189.8 147.25,189.3 147.38,188.7 147.5,187.6 147.62,185.9 147.75,183.6 147.88,180.6 148,177.1 148.12,173.3 148.25,169.7 148.38,167.2 148.5,166.2 148.62,167.2 148.75,169.8 148.88,173.3 149,177.1 149.12,180.7 149.25,183.7 149.38,186 149.5,187.7 149.62,188.8 149.75,189.5 149.88,189.9 150,190.2 150.12,190.4 150.25,190.5 150.38,190.6 150.5,190.6 150.62,190.7 150.75,190.7 150.88,190.8 151,190.8 151.12,190.8 151.25,190.9 151.38,190.9 151.5,190.9 151.62,190.9 151.75,191 151.88,191 152,191 152.12,191 152.25,191 152.38,191 152.5,191 152.62,191.1 152.75,191.1 152.88,191.1 153,191.1 153.12,191.1 153.25,191.1 153.38,191.1 153.5,191.1 153.62,191.1 153.75,191.1 153.88,191.2 154,191.2 154.12,191.2 154.25,191.2 154.38,191.2 154.5,191.2 154.62,191.2 154.75,191.2 154.88,191.2 155,191.2 155.12,191.2 155.25,191.2 155.38,191.2 155.5,191.2 155.62,191.3 155.75,191.3 155.88,191.3 156,191.3 156.12,191.3 156.25,191.3 156.38,191.3 156.5,191.3 156.62,191.3 156.75,191.3 156.88,191.3 157,191.3 157.12,191.3 157.25,191.3 157.38,191.3 157.5,191.3 157.62,191.3 157.75,191.3 157.88,191.3 158,191.3 158.12,191.4 158.25,191.4 158.38,191.4 158.5,191.4 158.62,191.4 158.75,191.4 158.88,191.4 159,191.4 159.12,191.4 159.25,191.4 159.38,191.4 159.5,191.4 159.62,191.4 159.75,191.4 159.88,191.4 160,191.4 160.12,191.4 160.25,191.4 160.38,191.4 160.5,191.4 160.62,191.4 160.75,191.4 160.88,191.4 161,191.4 161.12,191.5 161.25,191.5 161.38,191.5 161.5,191.5 161.62,191.5 161.75,191.5 161.88,191.5 162,191.5 162.12,191.5 162.25,191.5 162.38,191.5 162.5,191.5 162.62,191.5 162.75,191.5 162.88,191.5 163,191.5 163.12,191.5 163.25,191.5 163.38,191.5 163.5,191.5 163.62,191.5 163.75,191.5 163.88,191.5 164,191.5 164.12,191.5 164.25,191.5 164.38,191.5 164.5,191.5 164.62,191.5 164.75,191.5 164.88,191.5 165,191.5 165.12,191.5 165.25,191.5 165.38,191.5 165.5,191.5 165.62,191.5 165.75,191.5 165.88,191.5 166,191.5 166.12,191.5 166.25,191.5 166.38,191.5 166.5,191.5 166.62,191.5 166.75,191.5 166.88,191.5 167,191.5 167.12,191.4 167.25,191.4 167.38,191.4 167.5,191.4 167.62,191.3 167.75,191.3 167.88,191.3 168,191.2 168.12,191.2 168.25,191.1 168.38,191 168.5,190.8 168.62,190.4 168.75,189.9 168.88,189 169,187.6 169.12,185.4 169.25,182.5 169.38,178.8 169.5,174.7 169.62,170.7 169.75,167.5 169.88,166 170,166.7 170.12,169.3 170.25,173.1 170.38,177.2 170.5,181.1 170.62,184.4 170.75,186.8 170.88,188.5 171,189.6 171.12,190.3 171.25,190.7 171.38,191 171.5,191.1 171.62,191.2 171.75,191.3 171.88,191.4 172,191.4 172.12,191.4 172.25,191.5 172.38,191.5 172.5,191.5 172.62,191.6 172.75,191.6 172.88,191.6 173,191.6 173.12,191.6 173.25,191.7 173.38,191.7 173.5,191.7 173.62,191.7 173.75,191.7 173.88,191.7 174,191.7 174.12,191.7 174.25,191.7 174.38,191.8 174.5,191.8 174.62,191.8 174.75,191.8 174.88,191.8 175,191.8 175.12,191.8 175.25,191.8 175.38,191.8 175.5,191.8 175.62,191.8 175.75,191.8 175.88,191.8 176,191.8 176.12,191.8 176.25,191.8 176.38,191.8 176.5,191.8 176.62,191.8 176.75,191.8 176.88,191.8 177,191.9 177.12,191.9 177.25,191.9 177.38,191.9 177.5,191.9 177.62,191.9 177.75,191.9 177.88,191.9 178,191.9 178.12,191.9 178.25,191.9 178.38,191.9 178.5,191.9 178.62,191.9 178.75,191.9 178.88,191.9 179,191.9 179.12,191.9 179.25,191.9 179.38,191.9 179.5,191.9 179.62,191.9 179.75,191.9 179.88,191.9 180,191.9 180.12,191.9 180.25,191.9 180.38,191.9 180.5,191.9 180.62,191.9 180.75,191.9 180.88,191.9 181,191.9 181.12,191.9 181.25,191.9 181.38,191.9 181.5,191.9 181.62,191.8 181.75,191.8 181.88,191.8 182,191.8 182.12,191.8 182.25,191.8 182.38,191.8 182.5,191.8 182.62,191.7 182.75,191.7 182.88,191.7 183,191.6 183.12,191.6 183.25,191.5 183.38,191.4 183.5,191.2 183.62,190.8 183.75,190.3 183.88,189.4 184,188 184.12,186.1 184.25,183.7 184.38,180.9 184.5,178.1 184.62,175.8 184.75,174.5 184.88,174.6 185,176.2 185.12,178.7 185.25,181.5 185.38,184.2 185.5,186.5 185.62,188.3 185.75,189.5 185.88,190.4 186,190.9 186.12,191.1 186.25,191.3 186.38,191.4 186.5,191.5 186.62,191.5 186.75,191.5 186.88,191.5 187,191.5 187.12,191.5 187.25,191.5 187.38,191.5 187.5,191.5 187.62,191.4 187.75,191.4 187.88,191.3 188,191.2 188.12,191.1 188.25,191 188.38,190.7 188.5,190.3 188.62,189.6 188.75,188.3 188.88,186.4 189,183.4 189.12,179.3 189.25,174.1 189.38,168 189.5,161.9 189.62,156.8 189.75,154 189.88,154.3 190,157.7 190.12,163.1 190.25,169.3 190.38,175.2 190.5,180.3 190.62,184.2 190.75,186.9 190.88,188.7 191,189.8 191.12,190.5 191.25,190.9 191.38,191.1 191.5,191.3 191.62,191.4 191.75,191.5 191.88,191.6 192,191.6 192.12,191.7 192.25,191.7 192.38,191.8 192.5,191.8 192.62,191.9 192.75,191.9 192.88,191.9 193,191.9 193.12,191.9 193.25,192 193.38,192 193.5,192 193.62,192 193.75,192 193.88,192 194,192 194.12,192.1 194.25,192.1 194.38,192.1 194.5,192.1 194.62,192.1 194.75,192.1 194.88,192.1 195,192.1 195.12,192.1 195.25,192.1 195.38,192.1 195.5,192.1 195.62,192.1 195.75,192.1 195.88,192.1 196,192.2 196.12,192.2 196.25,192.2 196.38,192.2 196.5,192.2 196.62,192.2 196.75,192.2 196.88,192.2 197,192.2 197.12,192.2 197.25,192.2 197.38,192.2 197.5,192.2 197.62,192.2 197.75,192.2 197.88,192.2 198,192.2 198.12,192.2 198.25,192.2 198.38,192.2 198.5,192.2 198.62,192.2 198.75,192.2 198.88,192.2 199,192.2 199.12,192.2 199.25,192.2 199.38,192.2 199.5,192.2 199.62,192.2 199.75,192.2 199.88,192.2 200,192.2 200.12,192.2 200.25,192.2 200.38,192.2 200.5,192.2 200.62,192.2 200.75,192.2 200.88,192.2 201,192.2 201.12,192.2 201.25,192.2 201.38,192.2 201.5,192.2 201.62,192.2 201.75,192.2 201.88,192.2 202,192.2 202.12,192.2 202.25,192.2 202.38,192.2 202.5,192.2 202.62,192.2 202.75,192.2 202.88,192.2 203,192.2 203.12,192.2 203.25,192.2 203.38,192.2 203.5,192.2 203.62,192.2 203.75,192.2 203.88,192.2 204,192.2 204.12,192.2 204.25,192.2 204.38,192.1 204.5,192.1 204.62,192.1 204.75,192.1 204.88,192.1 205,192.1 205.12,192.1 205.25,192.1 205.38,192.1 205.5,192 205.62,192 205.75,192 205.88,192 206,191.9 206.12,191.9 206.25,191.9 206.38,191.8 206.5,191.8 206.62,191.7 206.75,191.7 206.88,191.6 207,191.5 207.12,191.4 207.25,191.3 207.38,191.2 207.5,191 207.62,190.8 207.75,190.4 207.88,189.9 208,188.9 208.12,187.3 208.25,184.5 208.38,180.1 208.5,173.5 208.62,164.7 208.75,153.9 208.88,142.4 209,132.2 209.12,125.6 209.25,125 209.38,130.5 209.5,140.2 209.62,151.7 209.75,162.7 209.88,172 210,179 210.12,183.8 210.25,186.8 210.38,188.7 210.5,189.7 210.62,190.3 210.75,190.7 210.88,191 211,191.2 211.12,191.3 211.25,191.4 211.38,191.5 211.5,191.6 211.62,191.7 211.75,191.8 211.88,191.8 212,191.9 212.12,191.9 212.25,191.9 212.38,192 212.5,192 212.62,192 212.75,192.1 212.88,192.1 213,192.1 213.12,192.1 213.25,192.1 213.38,192.2 213.5,192.2 213.62,192.2 213.75,192.2 213.88,192.2 214,192.2 214.12,192.2 214.25,192.2 214.38,192.2 214.5,192.3 214.62,192.3 214.75,192.3 214.88,192.3 215,192.3 215.12,192.3 215.25,192.3 215.38,192.3 215.5,192.3 215.62,192.3 215.75,192.3 215.88,192.3 216,192.3 216.12,192.3 216.25,192.3 216.38,192.3 216.5,192.3 216.62,192.3 216.75,192.3 216.88,192.3 217,192.3 217.12,192.3 217.25,192.3 217.38,192.3 217.5,192.3 217.62,192.3 217.75,192.3 217.88,192.3 218,192.3 218.12,192.3 218.25,192.3 218.38,192.3 218.5,192.3 218.62,192.3 218.75,192.3 218.88,192.3 219,192.3 219.12,192.3 219.25,192.3 219.38,192.3 219.5,192.3 219.62,192.3 219.75,192.3 219.88,192.3 220,192.3 220.12,192.3 220.25,192.3 220.38,192.3 220.5,192.3 220.62,192.3 220.75,192.3 220.88,192.3 221,192.3 221.12,192.2 221.25,192.2 221.38,192.2 221.5,192.2 221.62,192.1 221.75,192.1 221.88,192 222,191.9 222.12,191.7 222.25,191.3 222.38,190.7 222.5,189.8 222.62,188.4 222.75,186.5 222.88,184.4 223,182.1 223.12,180.2 223.25,179.1 223.38,179.2 223.5,180.5 223.62,182.5 223.75,184.8 223.88,186.9 224,188.7 224.12,190 224.25,190.9 224.38,191.4 224.5,191.7 224.62,191.9 224.75,192 224.88,192.1 225,192.2 225.12,192.2 225.25,192.2 225.38,192.3 225.5,192.3 225.62,192.3 225.75,192.3 225.88,192.3 226,192.3 226.12,192.3 226.25,192.3 226.38,192.4 226.5,192.4 226.62,192.4 226.75,192.4 226.88,192.4 227,192.4 227.12,192.4 227.25,192.4 227.38,192.4 227.5,192.4 227.62,192.4 227.75,192.4 227.88,192.4 228,192.4 228.12,192.4 228.25,192.4 228.38,192.4 228.5,192.4 228.62,192.4 228.75,192.4 228.88,192.4 229,192.4 229.12,192.4 229.25,192.4 229.38,192.4 229.5,192.4 229.62,192.4 229.75,192.4 229.88,192.4 230,192.4 230.12,192.4 230.25,192.4 230.38,192.4 230.5,192.4 230.62,192.4 230.75,192.4 230.88,192.4 231,192.4 231.12,192.4 231.25,192.4 231.38,192.4 231.5,192.4 231.62,192.4 231.75,192.4 231.88,192.4 232,192.4 232.12,192.4 232.25,192.4 232.38,192.4 232.5,192.4 232.62,192.4 232.75,192.4 232.88,192.4 233,192.4 233.12,192.4 233.25,192.4 233.38,192.4 233.5,192.4 233.62,192.4 233.75,192.4 233.88,192.4 234,192.4 234.12,192.4 234.25,192.4 234.38,192.4 234.5,192.4 234.62,192.4 234.75,192.4 234.88,192.4 235,192.4 235.12,192.4 235.25,192.4 235.38,192.4 235.5,192.4 235.62,192.4 235.75,192.4 235.88,192.4 236,192.4 236.12,192.4 236.25,192.4 236.38,192.4 236.5,192.4 236.62,192.4 236.75,192.4 236.88,192.4 237,192.4 237.12,192.4 237.25,192.4 237.38,192.4 237.5,192.4 237.62,192.4 237.75,192.4 237.88,192.4 238,192.4 238.12,192.4 238.25,192.4 238.38,192.4 238.5,192.4 238.62,192.4 238.75,192.4 238.88,192.4 239,192.4 239.12,192.4 239.25,192.4 239.38,192.4 239.5,192.4 239.62,192.4 239.75,192.4 239.88,192.4 240,192.4 240.12,192.4 240.25,192.4 240.38,192.4 240.5,192.4 240.62,192.4 240.75,192.4 240.88,192.4 241,192.4 241.12,192.4 241.25,192.4 241.38,192.4 241.5,192.4 241.62,192.4 241.75,192.4 241.88,192.4 242,192.4 242.12,192.4 242.25,192.4 242.38,192.4 242.5,192.3 242.62,192.3 242.75,192.3 242.88,192.3 243,192.3 243.12,192.3 243.25,192.3 243.38,192.3 243.5,192.3 243.62,192.3 243.75,192.3 243.88,192.2 244,192.2 244.12,192.2 244.25,192.2 244.38,192.1 244.5,192.1 244.62,192.1 244.75,192 244.88,192 245,191.9 245.12,191.8 245.25,191.6 245.38,191.3 245.5,190.8 245.62,190.1 245.75,188.9 245.88,187.2 246,184.8 246.12,181.9 246.25,178.5 246.38,175.1 246.5,172.2 246.62,170.4 246.75,170.2 246.88,171.7 247,174.5 247.12,177.8 247.25,181.3 247.38,184.3 247.5,186.8 247.62,188.6 247.75,189.9 247.88,190.7 248,191.2 248.12,191.5 248.25,191.7 248.38,191.9 248.5,191.9 248.62,192 248.75,192 248.88,192.1 249,192.1 249.12,192.1 249.25,192.2 249.38,192.2 249.5,192.2 249.62,192.2 249.75,192.2 249.88,192.3 250,192.3 250.12,192.3 250.25,192.3 250.38,192.3 250.5,192.3 250.62,192.3 250.75,192.3 250.88,192.3 251,192.3 251.12,192.3 251.25,192.3 251.38,192.3 251.5,192.3 251.62,192.3 251.75,192.3 251.88,192.3 252,192.3 252.12,192.3 252.25,192.4 252.38,192.4 252.5,192.4 252.62,192.4 252.75,192.4 252.88,192.4 253,192.4 253.12,192.4 253.25,192.4 253.38,192.4 253.5,192.4 253.62,192.4 253.75,192.4 253.88,192.4 254,192.4 254.12,192.4 254.25,192.4 254.38,192.4 254.5,192.4 254.62,192.4 254.75,192.4 254.88,192.4 255,192.4 255.12,192.3 255.25,192.3 255.38,192.3 255.5,192.3 255.62,192.3 255.75,192.3 255.88,192.3 256,192.3 256.12,192.3 256.25,192.3 256.38,192.3 256.5,192.3 256.62,192.3 256.75,192.3 256.88,192.3 257,192.3 257.12,192.3 257.25,192.3 257.38,192.3 257.5,192.3 257.62,192.3 257.75,192.3 257.88,192.3 258,192.3 258.12,192.2 258.25,192.2 258.38,192.2 258.5,192.2 258.62,192.2 258.75,192.2 258.88,192.1 259,192.1 259.12,192.1 259.25,192 259.38,192 259.5,191.9 259.62,191.8 259.75,191.6 259.88,191.3 260,190.9 260.12,190.1 260.25,189 260.38,187.5 260.5,185.5 260.62,183.2 260.75,180.9 260.88,178.7 261,177.3 261.12,176.9 261.25,177.8 261.38,179.5 261.5,181.8 261.62,184.1 261.75,186.3 261.88,188.1 262,189.4 262.12,190.4 262.25,191 262.38,191.4 262.5,191.6 262.62,191.7 262.75,191.8 262.88,191.9 263,191.9 263.12,191.9 263.25,191.9 263.38,191.9 263.5,191.9 263.62,191.9 263.75,191.9 263.88,191.9 264,191.8 264.12,191.8 264.25,191.7 264.38,191.6 264.5,191.4 264.62,191 264.75,190.5 264.88,189.6 265,188.3 265.12,186.4 265.25,183.9 265.38,180.8 265.5,177.5 265.62,174.3 265.75,171.8 265.88,170.7 266,171.2 266.12,173.2 266.25,176.2 266.38,179.5 266.5,182.7 266.62,185.5 266.75,187.6 266.88,189.2 267,190.2 267.12,190.9 267.25,191.3 267.38,191.6 267.5,191.7 267.62,191.8 267.75,191.9 267.88,191.9 268,192 268.12,192 268.25,192.1 268.38,192.1 268.5,192.1 268.62,192.1 268.75,192.1 268.88,192.2 269,192.2 269.12,192.2 269.25,192.2 269.38,192.2 269.5,192.2 269.62,192.2 269.75,192.2 269.88,192.2 270,192.2 270.12,192.3 270.25,192.3 270.38,192.3 270.5,192.3 270.62,192.3 270.75,192.3 270.88,192.3 271,192.3 271.12,192.3 271.25,192.3 271.38,192.3 271.5,192.3 271.62,192.3 271.75,192.3 271.88,192.3 272,192.3 272.12,192.3 272.25,192.3 272.38,192.3 272.5,192.3 272.62,192.3 272.75,192.3 272.88,192.3 273,192.3 273.12,192.3 273.25,192.3 273.38,192.3 273.5,192.3 273.62,192.3 273.75,192.3 273.88,192.3 274,192.3 274.12,192.3 274.25,192.3 274.38,192.3 274.5,192.3 274.62,192.3 274.75,192.3 274.88,192.3 275,192.3 275.12,192.3 275.25,192.3 275.38,192.3 275.5,192.3 275.62,192.3 275.75,192.3 275.88,192.3 276,192.3 276.12,192.3 276.25,192.3 276.38,192.3 276.5,192.3 276.62,192.3 276.75,192.3 276.88,192.3 277,192.3 277.12,192.3 277.25,192.3 277.38,192.3 277.5,192.3 277.62,192.3 277.75,192.3 277.88,192.3 278,192.3 278.12,192.3 278.25,192.3 278.38,192.3 278.5,192.3 278.62,192.3 278.75,192.3 278.88,192.3 279,192.3 279.12,192.3 279.25,192.3 279.38,192.3 279.5,192.3 279.62,192.3 279.75,192.3 279.88,192.3 280,192.3 280.12,192.2 280.25,192.2 280.38,192.2 280.5,192.2 280.62,192.2 280.75,192.2 280.88,192.2 281,192.2 281.12,192.2 281.25,192.2 281.38,192.2 281.5,192.2 281.62,192.2 281.75,192.2 281.88,192.2 282,192.2 282.12,192.2 282.25,192.2 282.38,192.2 282.5,192.1 282.62,192.1 282.75,192.1 282.88,192.1 283,192.1 283.12,192.1 283.25,192.1 283.38,192 283.5,192 283.62,192 283.75,192 283.88,191.9 284,191.9 284.12,191.9 284.25,191.8 284.38,191.8 284.5,191.7 284.62,191.6 284.75,191.5 284.88,191.3 285,191 285.12,190.6 285.25,190 285.38,189.1 285.5,187.7 285.62,185.9 285.75,183.5 285.88,180.6 286,177.3 286.12,173.7 286.25,170.2 286.38,167.3 286.5,165.5 286.62,165 286.75,166.1 286.88,168.4 287,171.6 287.12,175.1 287.25,178.6 287.38,181.8 287.5,184.5 287.62,186.7 287.75,188.3 287.88,189.5 288,190.3 288.12,190.8 288.25,191.1 288.38,191.4 288.5,191.5 288.62,191.6 288.75,191.7 288.88,191.8 289,191.8 289.12,191.9 289.25,191.9 289.38,191.9 289.5,192 289.62,192 289.75,192 289.88,192 290,192 290.12,192.1 290.25,192.1 290.38,192.1 290.5,192.1 290.62,192.1 290.75,192.1 290.88,192.1 291,192.1 291.12,192.1 291.25,192.1 291.38,192.1 291.5,192.2 291.62,192.2 291.75,192.2 291.88,192.2 292,192.2 292.12,192.2 292.25,192.2 292.38,192.2 292.5,192.2 292.62,192.2 292.75,192.2 292.88,192.2 293,192.2 293.12,192.2 293.25,192.2 293.38,192.2 293.5,192.2 293.62,192.2 293.75,192.2 293.88,192.2 294,192.2 294.12,192.2 294.25,192.2 294.38,192.2 294.5,192.2 294.62,192.2 294.75,192.2 294.88,192.2 295,192.2 295.12,192.2 295.25,192.2 295.38,192.2 295.5,192.2 295.62,192.2 295.75,192.2 295.88,192.2 296,192.2 296.12,192.2 296.25,192.2 296.38,192.2 296.5,192.2 296.62,192.2 296.75,192.2 296.88,192.2 297,192.2 297.12,192.2 297.25,192.2 297.38,192.2 297.5,192.2 297.62,192.2 297.75,192.2 297.88,192.2 298,192.2 298.12,192.2 298.25,192.2 298.38,192.2 298.5,192.2 298.62,192.1 298.75,192.1 298.88,192.1 299,192.1 299.12,192.1 299.25,192.1 299.38,192.1 299.5,192.1 299.62,192.1 299.75,192.1 299.88,192.1 300,192.1 300.12,192 300.25,192 300.38,192 300.5,192 300.62,191.9 300.75,191.8 300.88,191.8 301,191.7 301.12,191.5 301.25,191.3 301.38,191.1 301.5,190.8 301.62,190.5 301.75,190 301.88,189.6 302,189 302.12,188.5 302.25,187.8 302.38,187.2 302.5,186.7 302.62,186.2 302.75,185.8 302.88,185.5 303,185.4 303.12,185.5 303.25,185.7 303.38,186.1 303.5,186.6 303.62,187.2 303.75,187.8 303.88,188.4 304,189 304.12,189.5 304.25,190 304.38,190.4 304.5,190.7 304.62,191 304.75,191.2 304.88,191.4 305,191.5 305.12,191.6 305.25,191.7 305.38,191.7 305.5,191.8 305.62,191.8 305.75,191.8 305.88,191.8 306,191.7 306.12,191.7 306.25,191.6 306.38,191.6 306.5,191.5 306.62,191.4 306.75,191.2 306.88,191 307,190.7 307.12,190.3 307.25,189.9 307.38,189.4 307.5,188.9 307.62,188.2 307.75,187.4 307.88,186.6 308,185.8 308.12,184.9 308.25,184.1 308.38,183.3 308.5,182.6 308.62,182 308.75,181.6 308.88,181.5 309,181.5 309.12,181.8 309.25,182.3 309.38,183 309.5,183.7 309.62,184.6 309.75,185.5 309.88,186.3 310,187.2 310.12,187.9 310.25,188.6 310.38,189.3 310.5,189.8 310.62,190.2 310.75,190.6 310.88,190.9 311,191.2 311.12,191.4 311.25,191.5 311.38,191.6 311.5,191.7 311.62,191.8 311.75,191.8 311.88,191.9 312,191.9 312.12,191.9 312.25,192 312.38,192 312.5,192 312.62,192 312.75,192 312.88,192 313,192.1 313.12,192.1 313.25,192.1 313.38,192.1 313.5,192.1 313.62,192.1 313.75,192.1 313.88,192.1 314,192.1 314.12,192.1 314.25,192.1 314.38,192.1 314.5,192.1 314.62,192.1 314.75,192.1 314.88,192.1 315,192.1 315.12,192.1 315.25,192.1 315.38,192.2 315.5,192.2 315.62,192.2 315.75,192.2 315.88,192.2 316,192.2 316.12,192.2 316.25,192.2 316.38,192.2 316.5,192.2 316.62,192.2 316.75,192.2 316.88,192.2 317,192.2 317.12,192.2 317.25,192.2 317.38,192.2 317.5,192.2 317.62,192.2 317.75,192.2 317.88,192.2 318,192.2 318.12,192.2 318.25,192.2 318.38,192.2 318.5,192.2 318.62,192.2 318.75,192.2 318.88,192.2 319,192.2 319.12,192.2 319.25,192.2 319.38,192.2 319.5,192.2 319.62,192.2 319.75,192.2 319.88,192.2 320,192.2 320.12,192.2 320.25,192.2 320.38,192.2 320.5,192.2 320.62,192.2 320.75,192.2 320.88,192.2 321,192.2 321.12,192.2 321.25,192.2 321.38,192.2 321.5,192.2 321.62,192.2 321.75,192.2 321.88,192.2 322,192.2 322.12,192.2 322.25,192.2 322.38,192.2 322.5,192.2 322.62,192.2 322.75,192.2 322.88,192.2 323,192.2 323.12,192.2 323.25,192.2 323.38,192.2 323.5,192.2 323.62,192.2 323.75,192.2 323.88,192.2 324,192.2 324.12,192.2 324.25,192.2 324.38,192.2 324.5,192.2 324.62,192.2"/>
<path d="M84.4 197.3V202M93.9 197.3V202M124.2 197.3V202M142.7 197.3V202M148.5 197.3V202M169.9 197.3V202M184.8 197.3V202M189.8 197.3V202M209.2 197.3V202M223.3 197.3V202M246.7 197.3V202M261.1 197.3V202M265.9 197.3V202M286.6 197.3V202M303 197.3V202M308.9 197.3V202" stroke="#8a96d8" stroke-width="0.9" fill="none"/>
<polyline points="68,216.5 68.2,216.2 68.5,216.2 68.8,216.5 69,216.4 69.2,216.3 69.5,216.2 69.8,216.2 70,216.2 70.2,215.7 70.5,216 70.8,216.2 71,216.3 71.2,216.3 71.5,216 71.8,216 72,216.4 72.2,216.5 72.5,216.6 72.8,216.6 73,216.4 73.2,216.1 73.5,216.2 73.8,216.3 74,216.2 74.2,216 74.5,215.8 74.8,216 75,215.9 75.2,215.9 75.5,216.3 75.8,216.1 76,216.4 76.2,216.2 76.5,216.4 76.8,216.4 77,216.3 77.2,216.1 77.5,215.9 77.8,216 78,216.2 78.2,216.4 78.5,216.3 78.8,216.3 79,216.1 79.2,215.9 79.5,215.9 79.8,216 80,215.9 80.2,215.8 80.5,215.9 80.8,215.8 81,215.6 81.2,215.4 81.5,215.7 81.8,215.2 82,215 82.2,215.2 82.5,214.7 82.8,213.6 83,212.5 83.2,212 83.5,212.2 83.8,213 84,213.8 84.2,214.1 84.5,213.9 84.8,213.3 85,212.7 85.2,212.5 85.5,213.2 85.8,213.9 86,214.5 86.2,214.8 86.5,214.8 86.8,214.9 87,215.4 87.2,215.4 87.5,215.3 87.8,215.3 88,215.3 88.2,215.4 88.5,215.7 88.8,215.9 89,215.7 89.2,215.4 89.5,215.5 89.8,215.8 90,215.8 90.2,215.7 90.5,215.5 90.8,215.2 91,215 91.2,215.2 91.5,215.4 91.8,214.7 92,214.4 92.2,214.2 92.5,214.1 92.8,213.6 93,213 93.2,211.6 93.5,209.7 93.8,209.5 94,210.8 94.2,212.1 94.5,213.2 94.8,213.9 95,214.2 95.2,214.4 95.5,214.9 95.8,215 96,215.4 96.2,215.8 96.5,216.1 96.8,216 97,216.4 97.2,216.6 97.5,216.8 97.8,216.8 98,216.6 98.2,216.6 98.5,216.3 98.8,216.5 99,216.9 99.2,217.2 99.5,216.9 99.8,216.6 100,216.6 100.2,216.6 100.5,216.8 100.8,216.9 101,216.9 101.2,216.7 101.5,216.9 101.8,217 102,216.9 102.2,216.7 102.5,216.9 102.8,216.8 103,217.2 103.2,217.1 103.5,217.1 103.8,217 104,216.9 104.2,216.8 104.5,216.9 104.8,216.6 105,216.4 105.2,217 105.5,217.1 105.8,216.9 106,216.8 106.2,216.9 106.5,217.1 106.8,217 107,217.1 107.2,217 107.5,217.1 107.8,216.9 108,217.3 108.2,217.2 108.5,217.3 108.8,217.2 109,216.7 109.2,216.6 109.5,216.6 109.8,216.5 110,216.5 110.2,217.1 110.5,217.3 110.8,216.6 111,216.2 111.2,216.5 111.5,216.9 111.8,217 112,216.8 112.2,216.7 112.5,216.8 112.8,216.9 113,216.6 113.2,216.6 113.5,216.7 113.8,216.6 114,216.6 114.2,216.5 114.5,216.5 114.8,216.4 115,216.3 115.2,216.4 115.5,216.2 115.8,215.9 116,216.2 116.2,216.3 116.5,216.3 116.8,216.3 117,216.3 117.2,216.3 117.5,216.2 117.8,216.3 118,216.5 118.2,216.6 118.5,216 118.8,216.1 119,216.2 119.2,216.2 119.5,216 119.8,215.9 120,216.1 120.2,216.3 120.5,216.4 120.8,216.4 121,216.2 121.2,215.9 121.5,215.7 121.8,215.3 122,214.9 122.2,215 122.5,215.3 122.8,215.4 123,215.5 123.2,215.5 123.5,215 123.8,212.8 124,206.8 124.2,204.2 124.5,212.2 124.8,222.2 125,224 125.2,218.7 125.5,215.6 125.8,215.2 126,215.4 126.2,215.4 126.5,215.5 126.8,215.6 127,215.7 127.2,215.9 127.5,216 127.8,215.7 128,215.8 128.2,215.6 128.5,215.8 128.8,215.9 129,216.1 129.2,215.9 129.5,215.9 129.8,215.7 130,215.8 130.2,215.9 130.5,216.2 130.8,216.3 131,216.5 131.2,216.3 131.5,216.3 131.8,216.2 132,216.1 132.2,216.2 132.5,215.8 132.8,215.8 133,216.2 133.2,216.4 133.5,216.2 133.8,216.2 134,216.3 134.2,216.2 134.5,216.1 134.8,216.1 135,216.3 135.2,216.3 135.5,216.3 135.8,216.2 136,216 136.2,216.4 136.5,216.6 136.8,216.5 137,216.5 137.2,216.6 137.5,216.5 137.8,216.2 138,216.1 138.2,216.1 138.5,216.7 138.8,216.6 139,216.3 139.2,216.3 139.5,216.2 139.8,216 140,216.1 140.2,215.9 140.5,215.9 140.8,216.2 141,216.1 141.2,216.2 141.5,216.3 141.8,216.8 142,217.5 142.2,218.6 142.5,219.3 142.8,219.4 143,218.7 143.2,217.9 143.5,217 143.8,216.4 144,216.3 144.2,216.3 144.5,216.1 144.8,216.2 145,216.5 145.2,216.4 145.5,216.2 145.8,216.3 146,216.8 146.2,216.7 146.5,216.3 146.8,216.4 147,216.5 147.2,216.5 147.5,216.7 147.8,217.1 148,217.7 148.2,218.1 148.5,218.5 148.8,218.1 149,217.8 149.2,216.9 149.5,216.4 149.8,216 150,216.1 150.2,216.7 150.5,216.7 150.8,216.1 151,215.8 151.2,215.8 151.5,215.8 151.8,215.8 152,216.1 152.2,216.4 152.5,216.3 152.8,216.4 153,216.3 153.2,216 153.5,215.9 153.8,216 154,216.2 154.2,216.1 154.5,216 154.8,216.2 155,216.5 155.2,216.5 155.5,216.1 155.8,216.1 156,216.1 156.2,216.2 156.5,216.3 156.8,216.3 157,216.3 157.2,216.1 157.5,215.8 157.8,215.8 158,216.2 158.2,216.1 158.5,216.4 158.8,216.3 159,215.9 159.2,215.8 159.5,216.1 159.8,216.3 160,216 160.2,215.8 160.5,215.7 160.8,215.8 161,215.9 161.2,216.1 161.5,216.1 161.8,216.3 162,216.3 162.2,216.7 162.5,216.7 162.8,216.5 163,216.4 163.2,216.2 163.5,216.3 163.8,216.2 164,216.3 164.2,216.5 164.5,216.5 164.8,216.4 165,216.1 165.2,216.1 165.5,216 165.8,216.4 166,216.3 166.2,216.4 166.5,216.1 166.8,216.4 167,216 167.2,215.7 167.5,215.7 167.8,216.1 168,216.1 168.2,216 168.5,216.5 168.8,216.6 169,216.8 169.2,217.7 169.5,219.2 169.8,219.9 170,219.5 170.2,218.5 170.5,217.6 170.8,216.9 171,216.1 171.2,216.1 171.5,216.4 171.8,216.4 172,216.2 172.2,216.2 172.5,216.3 172.8,216.1 173,216.4 173.2,216.5 173.5,216.5 173.8,216.4 174,215.8 174.2,215.7 174.5,215.9 174.8,215.9 175,216.1 175.2,216.5 175.5,216.5 175.8,216.4 176,216.2 176.2,216.2 176.5,216.2 176.8,216.2 177,215.9 177.2,215.9 177.5,216 177.8,216 178,216.2 178.2,216.6 178.5,216.6 178.8,216.3 179,216.1 179.2,216.1 179.5,216.1 179.8,216.1 180,216.1 180.2,216.1 180.5,215.9 180.8,216.1 181,216.3 181.2,216.4 181.5,216.3 181.8,216.1 182,216.4 182.2,216.7 182.5,216.6 182.8,216.4 183,216.4 183.2,216.4 183.5,216.2 183.8,216.4 184,216.2 184.2,216.1 184.5,216.1 184.8,216.7 185,217.2 185.2,217.6 185.5,217.5 185.8,217.3 186,217.2 186.2,216.8 186.5,216.5 186.8,216.3 187,216.4 187.2,216.4 187.5,216.2 187.8,216.2 188,216.2 188.2,216.1 188.5,216.4 188.8,217.3 189,219.2 189.2,220.5 189.5,221 189.8,220.1 190,219 190.2,217.6 190.5,216.8 190.8,216.4 191,216.1 191.2,216.3 191.5,216 191.8,216 192,216.1 192.2,216.4 192.5,216.5 192.8,216.1 193,215.9 193.2,215.9 193.5,215.9 193.8,216 194,216.4 194.2,216.3 194.5,216.7 194.8,216.3 195,216.3 195.2,216.3 195.5,216.3 195.8,216.1 196,216 196.2,216.1 196.5,216.1 196.8,216.2 197,216.1 197.2,216.2 197.5,216.2 197.8,216.1 198,216.2 198.2,215.8 198.5,216.2 198.8,216.5 199,216.5 199.2,216.5 199.5,216.5 199.8,216.5 200,216.3 200.2,216.3 200.5,216 200.8,216 201,216.2 201.2,216.5 201.5,216.8 201.8,216.9 202,216.3 202.2,215.9 202.5,216 202.8,216.4 203,216 203.2,216 203.5,216 203.8,216.2 204,216.3 204.2,216.6 204.5,216.3 204.8,216.2 205,216.1 205.2,216.4 205.5,216.1 205.8,216.3 206,216.3 206.2,216.2 206.5,216.1 206.8,216.3 207,216.1 207.2,216.2 207.5,216.4 207.8,216.4 208,215.7 208.2,215.2 208.5,214.2 208.8,214 209,214.4 209.2,216.2 209.5,218.4 209.8,219.6 210,218.5 210.2,217.3 210.5,216.8 210.8,216.7 211,216.5 211.2,216.4 211.5,216.1 211.8,216.2 212,216.5 212.2,216.3 212.5,216.1 212.8,216.3 213,216.5 213.2,216.3 213.5,216 213.8,216.1 214,216.4 214.2,216.5 214.5,216.5 214.8,216.3 215,216.6 215.2,216.4 215.5,216.2 215.8,216.1 216,216.4 216.2,216.6 216.5,216.7 216.8,216.4 217,216.5 217.2,216.5 217.5,216.7 217.8,216.5 218,216.6 218.2,216.4 218.5,216 218.8,216 219,215.9 219.2,216.1 219.5,216.3 219.8,216.1 220,216 220.2,216.2 220.5,216.3 220.8,216.1 221,215.7 221.2,216 221.5,216.1 221.8,216.1 222,216.1 222.2,216.2 222.5,216.5 222.8,216.4 223,216.4 223.2,216.1 223.5,216 223.8,216 224,216.3 224.2,216.2 224.5,216.5 224.8,216.3 225,216.2 225.2,216.2 225.5,216.3 225.8,216.4 226,216.4 226.2,216.2 226.5,215.9 226.8,215.9 227,216.3 227.2,216.4 227.5,216.2 227.8,216.3 228,216.2 228.2,215.8 228.5,215.9 228.8,216 229,216.2 229.2,216.1 229.5,215.9 229.8,216.3 230,216.2 230.2,216.2 230.5,216.1 230.8,216.2 231,216.2 231.2,216.1 231.5,216.3 231.8,216.3 232,216 232.2,215.9 232.5,215.9 232.8,216.1 233,216.2 233.2,216.2 233.5,216.5 233.8,216.5 234,216.2 234.2,216.3 234.5,216.2 234.8,216.3 235,216.5 235.2,216.1 235.5,216.2 235.8,216.3 236,216.5 236.2,216.4 236.5,216.2 236.8,216.1 237,216.3 237.2,216.5 237.5,216.5 237.8,216.3 238,216.3 238.2,216.1 238.5,216.1 238.8,216.2 239,216.3 239.2,216.3 239.5,216.2 239.8,216.2 240,216.1 240.2,216 240.5,215.8 240.8,215.7 241,215.8 241.2,216 241.5,215.8 241.8,216 242,216.3 242.2,216.2 242.5,216.4 242.8,216.4 243,216.3 243.2,216.1 243.5,216.1 243.8,216.1 244,216.1 244.2,216.2 244.5,216.2 244.8,216.1 245,216.3 245.2,216.1 245.5,216.2 245.8,215.8 246,215.5 246.2,215 246.5,214.9 246.8,215.9 247,216.3 247.2,217.1 247.5,216.7 247.8,216.4 248,216.1 248.2,216.1 248.5,216.2 248.8,216.4 249,216.4 249.2,216.6 249.5,216.7 249.8,216.6 250,216.3 250.2,216 250.5,216 250.8,216.1 251,216.3 251.2,216.2 251.5,216.1 251.8,215.8 252,215.7 252.2,216.1 252.5,216.3 252.8,216.3 253,216.2 253.2,216.2 253.5,216.1 253.8,216.4 254,216.4 254.2,216.1 254.5,215.7 254.8,216 255,216 255.2,216.1 255.5,216 255.8,216.3 256,216.4 256.2,216.1 256.5,216 256.8,216.3 257,216.2 257.2,216 257.5,216 257.8,216.2 258,216.1 258.2,215.9 258.5,216.2 258.8,216.1 259,215.9 259.2,215.8 259.5,216 259.8,216 260,215.8 260.2,215.4 260.5,214.7 260.8,214.6 261,214.9 261.2,215.3 261.5,215.4 261.8,215.8 262,216.3 262.2,216.3 262.5,216.3 262.8,216.4 263,216.3 263.2,216.1 263.5,215.9 263.8,216.2 264,216.1 264.2,216.4 264.5,216.2 264.8,216.1 265,216 265.2,215.3 265.5,214.8 265.8,215.1 266,215.8 266.2,216.4 266.5,216.8 266.8,216.7 267,216.4 267.2,216.2 267.5,216 267.8,215.8 268,215.8 268.2,215.8 268.5,216 268.8,216.3 269,216.5 269.2,216.4 269.5,216.2 269.8,216.2 270,216.1 270.2,216.2 270.5,216.3 270.8,216.3 271,216.5 271.2,216.6 271.5,216.2 271.8,216.1 272,216.1 272.2,216.1 272.5,216.2 272.8,216.4 273,216.3 273.2,216.4 273.5,216.6 273.8,216.4 274,216.5 274.2,216.3 274.5,216.3 274.8,216.6 275,216.7 275.2,216.3 275.5,216 275.8,215.8 276,216.2 276.2,216.5 276.5,216.4 276.8,215.8 277,216 277.2,216.1 277.5,216.3 277.8,216.3 278,216.1 278.2,216.1 278.5,216.2 278.8,216.1 279,216.4 279.2,216.7 279.5,216.5 279.8,216.2 280,216.4 280.2,216.8 280.5,216.7 280.8,216.3 281,216.3 281.2,216.1 281.5,216.2 281.8,216.2 282,216.1 282.2,216.1 282.5,216.2 282.8,215.9 283,215.9 283.2,216.1 283.5,216 283.8,216.2 284,216.3 284.2,216.2 284.5,216.1 284.8,215.8 285,216.2 285.2,215.6 285.5,214.8 285.8,214.2 286,213.7 286.2,213.5 286.5,213.6 286.8,214 287,214.8 287.2,215.6 287.5,216.2 287.8,216 288,216 288.2,215.9 288.5,216.2 288.8,216.1 289,216 289.2,216 289.5,216 289.8,216 290,216.4 290.2,216.4 290.5,216.2 290.8,216.2 291,216.4 291.2,216.3 291.5,216.1 291.8,216.4 292,216.2 292.2,216.2 292.5,216.2 292.8,216.3 293,216.3 293.2,216 293.5,216.1 293.8,215.9 294,216.2 294.2,216.4 294.5,216.3 294.8,216.4 295,216.5 295.2,216.5 295.5,216.1 295.8,216.4 296,216.7 296.2,216.5 296.5,216.3 296.8,216.2 297,216 297.2,215.7 297.5,215.7 297.8,216 298,216.6 298.2,216.5 298.5,216.4 298.8,216.3 299,216 299.2,216 299.5,216.3 299.8,216.5 300,216.6 300.2,216.4 300.5,216.1 300.8,216.3 301,216.2 301.2,216.3 301.5,216.3 301.8,215.7 302,215.3 302.2,214.7 302.5,213.9 302.8,213.5 303,213.2 303.2,213.5 303.5,214.4 303.8,215.2 304,215.4 304.2,215.8 304.5,216 304.8,216.2 305,215.9 305.2,215.9 305.5,215.9 305.8,216 306,216.1 306.2,216.1 306.5,215.8 306.8,215.4 307,215.1 307.2,214.7 307.5,214.5 307.8,214.3 308,214.5 308.2,214.1 308.5,214.4 308.8,214.7 309,214.6 309.2,215.1 309.5,215.4 309.8,215.6 310,215.9 310.2,215.8 310.5,216 310.8,215.7 311,215.9 311.2,215.8 311.5,216.3 311.8,216.3 312,216.4 312.2,216.4 312.5,216.2 312.8,216 313,216.2 313.2,216.3 313.5,216.3 313.8,216.4 314,216.1 314.2,216.4 314.5,216 314.8,216.1 315,216.4 315.2,216.4 315.5,216.2 315.8,216.1 316,216.2 316.2,216.4 316.5,216.1 316.8,215.9 317,216 317.2,216.2 317.5,216.1 317.8,215.9 318,215.9 318.2,215.9 318.5,215.9 318.8,215.9 319,216.5 319.2,216.5 319.5,216.2 319.8,216 320,216.1 320.2,216.3 320.5,216.3 320.8,216.3 321,216.2 321.2,216.1 321.5,216.5 321.8,216.3 322,216.2 322.2,216.3 322.5,216.4 322.8,216.6 323,216.4 323.2,216.3 323.5,216.3 323.8,216.2 324,216.5 324.2,216.5 324.5,216.5" fill="none" stroke="#2e8660" stroke-width="1.1" stroke-linejoin="round"/>
<polyline class="o" points="68,358.8 68.12,358.6 68.25,359.2 68.38,358.9 68.5,359.6 68.62,359.4 68.75,359.5 68.88,359.7 69,359.6 69.12,359.1 69.25,359.4 69.38,359.1 69.5,359.1 69.62,359.1 69.75,359 69.88,359.2 70,359.2 70.12,359.7 70.25,359.3 70.38,359.1 70.5,359.5 70.62,359.3 70.75,359.8 70.88,359.4 71,359.7 71.12,359.4 71.25,359.7 71.38,360.2 71.5,359.6 71.62,359.8 71.75,359.8 71.88,359.4 72,359.4 72.12,360.3 72.25,359.8 72.38,360.1 72.5,359.9 72.62,360.4 72.75,359.7 72.88,360 73,360.1 73.12,360.4 73.25,359.6 73.38,360 73.5,360.1 73.62,360.3 73.75,359.8 73.88,360.3 74,360.4 74.12,360.5 74.25,360 74.38,360.2 74.5,360.1 74.62,360.2 74.75,360.2 74.88,360.9 75,359.9 75.12,360.9 75.25,360 75.38,360 75.5,360.2 75.62,360.3 75.75,360.9 75.88,360.9 76,361 76.12,360.5 76.25,360.1 76.38,360.8 76.5,361.1 76.62,360.3 76.75,361 76.88,360.2 77,361 77.12,360.7 77.25,361.2 77.38,361.2 77.5,360.3 77.62,360.8 77.75,360.6 77.88,360.8 78,360.4 78.12,360.7 78.25,360.8 78.38,360.4 78.5,360.9 78.62,361.4 78.75,360.5 78.88,361.4 79,361 79.12,360.7 79.25,361.5 79.38,361 79.5,361 79.62,360.9 79.75,361.5 79.88,360.7 80,360.8 80.12,360.9 80.25,360.6 80.38,361.5 80.5,361.1 80.62,361.2 80.75,361.5 80.88,361.1 81,360.8 81.12,361.1 81.25,361.1 81.38,360.8 81.5,360.8 81.62,360.9 81.75,361.2 81.88,360.6 82,361.4 82.12,360.6 82.25,360.6 82.38,360.3 82.5,360.5 82.62,360.4 82.75,360.5 82.88,360.5 83,359.5 83.12,359.5 83.25,358.1 83.38,356.8 83.5,354.3 83.62,351.9 83.75,347 83.88,341.7 84,334.1 84.12,327.2 84.25,319.1 84.38,312.8 84.5,308.7 84.62,307.2 84.75,310 84.88,315.7 85,322.2 85.12,330.2 85.25,337.3 85.38,343.7 85.5,349.3 85.62,353.2 85.75,356.1 85.88,358.2 86,359.3 86.12,359.7 86.25,360.3 86.38,360.9 86.5,361.3 86.62,361.3 86.75,361.2 86.88,361 87,361.8 87.12,361.3 87.25,361.5 87.38,362.1 87.5,361.4 87.62,362.2 87.75,361.6 87.88,361.5 88,361.9 88.12,362.3 88.25,361.9 88.38,362.4 88.5,362 88.62,362.4 88.75,361.7 88.88,361.9 89,361.8 89.12,362.4 89.25,362.2 89.38,362.4 89.5,361.9 89.62,362.5 89.75,362.7 89.88,361.8 90,362.1 90.12,362.6 90.25,362.6 90.38,362.6 90.5,362 90.62,362.3 90.75,361.8 90.88,362.1 91,362.2 91.12,361.9 91.25,362 91.38,361.9 91.5,361.6 91.62,361.5 91.75,362.1 91.88,361.3 92,362.1 92.12,361.9 92.25,361.8 92.38,361.3 92.5,360.1 92.62,359.5 92.75,358.6 92.88,356.7 93,353.9 93.12,350.8 93.25,345.4 93.38,338.3 93.5,329.3 93.62,320.6 93.75,311.2 93.88,302.7 94,297.2 94.12,295.9 94.25,299.2 94.38,306.2 94.5,314.3 94.62,324.1 94.75,333.1 94.88,341.6 95,347.2 95.12,352.6 95.25,355.6 95.38,358.3 95.5,359.9 95.62,360.9 95.75,361.5 95.88,361.4 96,361.6 96.12,361.7 96.25,362 96.38,362 96.5,362.8 96.62,362.2 96.75,362.4 96.88,363.1 97,363.1 97.12,363.4 97.25,362.9 97.38,362.6 97.5,363.4 97.62,362.9 97.75,363.5 97.88,362.8 98,362.8 98.12,363.4 98.25,363.5 98.38,363.4 98.5,363.4 98.62,363.5 98.75,363.1 98.88,363.1 99,363.4 99.12,363.6 99.25,363.3 99.38,363.3 99.5,363.6 99.62,363.5 99.75,363.4 99.88,364.1 100,364.1 100.12,363.3 100.25,363.7 100.38,363.5 100.5,363.6 100.62,363.3 100.75,363.4 100.88,363.4 101,363.5 101.12,364 101.25,363.5 101.38,364.3 101.5,364.2 101.62,363.7 101.75,364.1 101.88,364.4 102,363.6 102.12,364 102.25,364 102.38,363.8 102.5,363.8 102.62,363.6 102.75,364.2 102.88,363.8 103,364 103.12,364.5 103.25,364 103.38,364 103.5,364.6 103.62,364.2 103.75,364.2 103.88,363.9 104,364.3 104.12,364.1 104.25,364.3 104.38,364.1 104.5,363.8 104.62,364.6 104.75,364.5 104.88,364.7 105,364.1 105.12,364.1 105.25,364 105.38,364.1 105.5,364.2 105.62,364.1 105.75,364.1 105.88,364.2 106,364.7 106.12,364.4 106.25,364.7 106.38,364 106.5,364.1 106.62,364.9 106.75,364 106.88,364.1 107,364.5 107.12,364.3 107.25,364.2 107.38,364.6 107.5,364.6 107.62,364.2 107.75,364.6 107.88,364.5 108,364.9 108.12,364.2 108.25,364.3 108.38,364.7 108.5,364.2 108.62,365 108.75,365.1 108.88,364.5 109,364.9 109.12,364.4 109.25,365.1 109.38,364.4 109.5,364.2 109.62,364.3 109.75,364.7 109.88,364.3 110,365.2 110.12,364.9 110.25,364.8 110.38,364.9 110.5,364.7 110.62,365.1 110.75,365 110.88,364.7 111,364.6 111.12,364.5 111.25,364.7 111.38,364.7 111.5,364.4 111.62,365.3 111.75,364.6 111.88,364.9 112,364.5 112.12,364.9 112.25,365 112.38,364.5 112.5,365.4 112.62,364.6 112.75,364.7 112.88,365.2 113,364.8 113.12,365.3 113.25,364.7 113.38,364.8 113.5,365.2 113.62,365.3 113.75,365.4 113.88,364.8 114,365 114.12,364.9 114.25,365.2 114.38,364.8 114.5,365.4 114.62,365.2 114.75,364.7 114.88,364.9 115,364.9 115.12,365.5 115.25,365 115.38,365.2 115.5,365.5 115.62,365 115.75,365.5 115.88,364.9 116,364.7 116.12,364.7 116.25,365.3 116.38,365 116.5,365.4 116.62,365.2 116.75,365.3 116.88,365 117,365.2 117.12,365.3 117.25,365 117.38,365.1 117.5,365.5 117.62,365.5 117.75,365 117.88,364.7 118,365.5 118.12,365.1 118.25,365.6 118.38,365.4 118.5,365 118.62,365.5 118.75,365.2 118.88,365.3 119,365.5 119.12,365.2 119.25,365.5 119.38,365 119.5,365 119.62,365.2 119.75,365 119.88,365.2 120,365 120.12,365.2 120.25,365.3 120.38,365 120.5,365.3 120.62,365.1 120.75,365.2 120.88,364.4 121,364.3 121.12,364.8 121.25,364.5 121.38,364.9 121.5,364.4 121.62,364.6 121.75,364.1 121.88,364.3 122,364.4 122.12,364.2 122.25,363.5 122.38,363.4 122.5,363.2 122.62,362.6 122.75,362.2 122.88,361.9 123,360.6 123.12,358.2 123.25,355.4 123.38,350.8 123.5,343 123.62,333.2 123.75,319.6 123.88,303.3 124,284.2 124.12,266.8 124.25,251.5 124.38,241.5 124.5,240.9 124.62,248.2 124.75,263.1 124.88,281.1 125,299.6 125.12,316.7 125.25,330.3 125.38,341.1 125.5,349.6 125.62,354.2 125.75,357.8 125.88,359.9 126,361.7 126.12,362.3 126.25,363.2 126.38,363.5 126.5,363.9 126.62,364.1 126.75,364.4 126.88,364.1 127,364.3 127.12,364.7 127.25,364.8 127.38,365.1 127.5,365.2 127.62,364.8 127.75,364.7 127.88,365.4 128,365.4 128.12,365.1 128.25,364.9 128.38,365 128.5,365.2 128.62,365.3 128.75,365.2 128.88,365.1 129,365.3 129.12,365.5 129.25,365.3 129.38,365.4 129.5,365.6 129.62,366 129.75,366.1 129.88,365.7 130,365.5 130.12,365.6 130.25,366 130.38,365.8 130.5,365.9 130.62,366.1 130.75,366 130.88,366.2 131,365.6 131.12,365.8 131.25,365.6 131.38,366 131.5,366.1 131.62,365.8 131.75,365.6 131.88,366 132,365.7 132.12,365.8 132.25,366 132.38,366.5 132.5,366 132.62,366.3 132.75,366 132.88,366 133,365.8 133.12,365.9 133.25,366.4 133.38,366.1 133.5,366 133.62,366.6 133.75,366.5 133.88,366 134,366.1 134.12,366.3 134.25,365.9 134.38,366.2 134.5,366 134.62,366.5 134.75,365.9 134.88,366.7 135,366 135.12,366.1 135.25,365.9 135.38,366.6 135.5,366.6 135.62,365.9 135.75,366.3 135.88,366.2 136,366.4 136.12,366.2 136.25,366.7 136.38,366.1 136.5,366.6 136.62,366.1 136.75,366.5 136.88,366.3 137,366.4 137.12,366.4 137.25,366.5 137.38,366 137.5,366 137.62,366.8 137.75,366.2 137.88,366.2 138,366.1 138.12,366.5 138.25,366.8 138.38,366.3 138.5,366.2 138.62,366.2 138.75,366 138.88,366 139,366 139.12,366.2 139.25,366.8 139.38,366.1 139.5,366.4 139.62,366.1 139.75,365.9 139.88,366.6 140,366 140.12,366 140.25,366.5 140.38,366 140.5,366 140.62,366.6 140.75,365.9 140.88,366.4 141,365.9 141.12,366 141.25,365.7 141.38,365.6 141.5,365.9 141.62,365.6 141.75,364.4 141.88,364 142,362.2 142.12,360.2 142.25,357.1 142.38,353.8 142.5,349.4 142.62,344.6 142.75,340.2 142.88,336.6 143,335.2 143.12,336.3 143.25,339.9 143.38,344.8 143.5,349.2 143.62,353.8 143.75,357.9 143.88,360.7 144,362.7 144.12,364 144.25,364.6 144.38,365.5 144.5,365.6 144.62,366 144.75,365.7 144.88,366.4 145,365.9 145.12,366.4 145.25,366.6 145.38,366 145.5,366.6 145.62,366.5 145.75,366.4 145.88,366.2 146,366.2 146.12,366.2 146.25,366.3 146.38,366.5 146.5,366.5 146.62,366.5 146.75,366.2 146.88,366.1 147,366.4 147.12,366.5 147.25,365.8 147.38,365.8 147.5,365.3 147.62,365.4 147.75,363.7 147.88,363 148,361 148.12,357.9 148.25,355 148.38,351 148.5,347.6 148.62,344.5 148.75,343.3 148.88,343.1 149,345.4 149.12,348.3 149.25,351.8 149.38,356 149.5,358.5 149.62,361.6 149.75,363.5 149.88,364.7 150,365.3 150.12,365.9 150.25,366.4 150.38,366.2 150.5,366.7 150.62,366.7 150.75,366.8 150.88,366.6 151,366.8 151.12,366.4 151.25,366.4 151.38,366.4 151.5,367 151.62,366.7 151.75,367.2 151.88,366.5 152,366.6 152.12,367.2 152.25,366.8 152.38,366.7 152.5,367.2 152.62,366.7 152.75,367.3 152.88,366.8 153,367.3 153.12,367 153.25,367.4 153.38,366.9 153.5,367.4 153.62,366.9 153.75,367 153.88,367.2 154,367.1 154.12,367.2 154.25,367.2 154.38,366.9 154.5,366.7 154.62,367.3 154.75,367.2 154.88,367.2 155,367.1 155.12,367.5 155.25,367 155.38,367.5 155.5,366.9 155.62,367.3 155.75,367.5 155.88,366.9 156,367.4 156.12,367 156.25,366.8 156.38,367.1 156.5,367.3 156.62,367 156.75,367.6 156.88,366.8 157,367 157.12,367.1 157.25,367.1 157.38,367.1 157.5,366.8 157.62,367 157.75,367 157.88,367.4 158,367.1 158.12,367.4 158.25,367.2 158.38,367.1 158.5,367 158.62,367.1 158.75,367.6 158.88,367.2 159,367.1 159.12,367.1 159.25,367.6 159.38,367.4 159.5,367.4 159.62,367.5 159.75,367.1 159.88,367.5 160,367 160.12,367.4 160.25,367.2 160.38,367.4 160.5,367.1 160.62,367.2 160.75,367.5 160.88,367.7 161,367.2 161.12,367.1 161.25,367.1 161.38,367.5 161.5,367.7 161.62,367 161.75,367.2 161.88,367.1 162,367.7 162.12,367.1 162.25,367 162.38,367.6 162.5,367.8 162.62,367.6 162.75,367.1 162.88,367.3 163,367.4 163.12,367.7 163.25,367.6 163.38,367.1 163.5,367.4 163.62,367.6 163.75,367.4 163.88,367.5 164,367.8 164.12,367.8 164.25,367.7 164.38,367.5 164.5,367.3 164.62,367.2 164.75,367.2 164.88,367.5 165,367.6 165.12,367.7 165.25,367.7 165.38,367.3 165.5,367.3 165.62,367.2 165.75,367.4 165.88,367.7 166,367.6 166.12,367.4 166.25,367.1 166.38,367.7 166.5,367.7 166.62,367.6 166.75,367.2 166.88,367.3 167,367.4 167.12,367.7 167.25,367.2 167.38,367.3 167.5,367 167.62,366.9 167.75,367.1 167.88,367.5 168,367.4 168.12,367.2 168.25,367.1 168.38,367 168.5,367.3 168.62,367 168.75,366.6 168.88,366.8 169,366.8 169.12,365.6 169.25,365.5 169.38,363.6 169.5,361.8 169.62,359.6 169.75,356.1 169.88,351.6 170,348 170.12,344.6 170.25,342.6 170.38,343.1 170.5,345.2 170.62,348.4 170.75,352.7 170.88,356.7 171,360 171.12,362.4 171.25,364.4 171.38,365.1 171.5,365.8 171.62,366.2 171.75,366.9 171.88,366.9 172,367.3 172.12,367.5 172.25,366.9 172.38,367.2 172.5,367.3 172.62,367.4 172.75,367.7 172.88,367.5 173,367.3 173.12,367.6 173.25,367.4 173.38,367.5 173.5,367.2 173.62,367.6 173.75,367.5 173.88,367.7 174,367.6 174.12,367.6 174.25,367.8 174.38,367.3 174.5,367.8 174.62,367.7 174.75,367.8 174.88,367.5 175,367.3 175.12,367.9 175.25,367.9 175.38,368 175.5,367.6 175.62,367.9 175.75,367.9 175.88,367.7 176,368 176.12,367.9 176.25,367.4 176.38,367.4 176.5,367.6 176.62,367.7 176.75,367.8 176.88,367.7 177,368 177.12,367.9 177.25,367.4 177.38,367.6 177.5,368 177.62,367.9 177.75,367.4 177.88,367.8 178,367.5 178.12,367.7 178.25,368.1 178.38,367.4 178.5,368 178.62,367.7 178.75,368.1 178.88,368 179,367.4 179.12,367.8 179.25,368 179.38,367.6 179.5,367.9 179.62,367.6 179.75,367.5 179.88,367.6 180,367.6 180.12,368.1 180.25,367.6 180.38,367.7 180.5,367.7 180.62,367.9 180.75,368.1 180.88,367.8 181,368 181.12,367.5 181.25,367.8 181.38,367.5 181.5,368 181.62,367.8 181.75,367.5 181.88,368 182,367.7 182.12,367.7 182.25,367.4 182.38,368 182.5,367.7 182.62,367.9 182.75,367.4 182.88,367.8 183,367.5 183.12,367.6 183.25,367.7 183.38,367.8 183.5,367.8 183.62,367.2 183.75,367.6 183.88,367 184,366.7 184.12,366.6 184.25,366.1 184.38,365.6 184.5,364.2 184.62,362.4 184.75,360.4 184.88,358 185,355.2 185.12,353.1 185.25,352 185.38,351.8 185.5,353.7 185.62,355.4 185.75,357.9 185.88,360.9 186,362.6 186.12,364.3 186.25,365.6 186.38,366 186.5,366.7 186.62,366.9 186.75,366.9 186.88,367.3 187,367.3 187.12,367.1 187.25,367.6 187.38,367.3 187.5,367 187.62,367.6 187.75,367.3 187.88,367 188,367.1 188.12,367.1 188.25,366.9 188.38,367 188.5,366.8 188.62,366.7 188.75,366.8 188.88,366.2 189,365.7 189.12,365 189.25,363.7 189.38,361.5 189.5,358.6 189.62,354.3 189.75,348.6 189.88,341.7 190,335.3 190.12,329.8 190.25,326.6 190.38,327.1 190.5,330.5 190.62,336.6 190.75,343.2 190.88,349.8 191,355.2 191.12,359 191.25,362.5 191.38,363.9 191.5,365.4 191.62,366.2 191.75,366.8 191.88,366.6 192,367.2 192.12,367.1 192.25,367 192.38,367.2 192.5,367.5 192.62,367.2 192.75,367.8 192.88,367.3 193,367.4 193.12,367.5 193.25,367.4 193.38,368 193.5,368 193.62,368 193.75,367.6 193.88,368 194,367.7 194.12,367.7 194.25,368 194.38,367.6 194.5,367.5 194.62,368.1 194.75,367.8 194.88,368.1 195,367.8 195.12,367.6 195.25,367.9 195.38,367.7 195.5,367.6 195.62,367.6 195.75,367.9 195.88,367.8 196,367.8 196.12,368.3 196.25,368.2 196.38,368.1 196.5,367.8 196.62,368.1 196.75,368.1 196.88,368 197,367.8 197.12,367.8 197.25,367.9 197.38,367.8 197.5,368.2 197.62,368 197.75,368.1 197.88,368.3 198,368.1 198.12,367.8 198.25,367.9 198.38,368.3 198.5,367.7 198.62,367.8 198.75,368.1 198.88,368.2 199,368.2 199.12,368.2 199.25,368.1 199.38,367.9 199.5,367.7 199.62,368.1 199.75,367.8 199.88,368.2 200,367.8 200.12,367.7 200.25,368.3 200.38,367.8 200.5,368.1 200.62,367.7 200.75,368.3 200.88,367.7 201,368.1 201.12,368.2 201.25,367.9 201.38,367.7 201.5,367.7 201.62,367.8 201.75,368.2 201.88,368 202,368.3 202.12,368.1 202.25,368.1 202.38,367.8 202.5,367.8 202.62,368.3 202.75,368.3 202.88,368 203,368.2 203.12,368.2 203.25,367.9 203.38,367.8 203.5,368.2 203.62,368.3 203.75,368.3 203.88,367.9 204,367.7 204.12,367.9 204.25,367.7 204.38,368.3 204.5,367.8 204.62,368.2 204.75,367.8 204.88,368.2 205,367.9 205.12,368.1 205.25,368 205.38,368.1 205.5,367.6 205.62,367.6 205.75,367.8 205.88,368.1 206,368.1 206.12,367.9 206.25,367.8 206.38,367.5 206.5,368 206.62,367.8 206.75,367.7 206.88,367.8 207,367.4 207.12,367.6 207.25,367.6 207.38,367.5 207.5,367.1 207.62,367.3 207.75,367.3 207.88,367 208,366.6 208.12,366.8 208.25,365.9 208.38,365.5 208.5,364.9 208.62,363.1 208.75,360.1 208.88,355.9 209,349.2 209.12,339.9 209.25,329.1 209.38,317.8 209.5,307.4 209.62,300.3 209.75,299.9 209.88,305.6 210,315.2 210.12,326.7 210.25,338 210.38,347.8 210.5,354.7 210.62,359.3 210.75,362.8 210.88,364.5 211,365.4 211.12,366 211.25,366.3 211.38,366.7 211.5,366.9 211.62,367 211.75,367.4 211.88,367.5 212,367.4 212.12,367.8 212.25,367.6 212.38,367.9 212.5,367.8 212.62,367.8 212.75,367.8 212.88,367.9 213,367.9 213.12,368 213.25,367.8 213.38,367.8 213.5,367.7 213.62,368.2 213.75,368.2 213.88,367.9 214,367.9 214.12,367.8 214.25,368.3 214.38,368.1 214.5,368.3 214.62,368.1 214.75,368 214.88,368.2 215,368.3 215.12,368.2 215.25,368 215.38,368.1 215.5,368.3 215.62,368.1 215.75,368.2 215.88,368.1 216,368.3 216.12,367.8 216.25,367.8 216.38,367.9 216.5,368.1 216.62,368 216.75,368.4 216.88,368.4 217,367.9 217.12,368.3 217.25,368.1 217.38,368.3 217.5,368 217.62,368.3 217.75,367.8 217.88,368.1 218,368 218.12,368 218.25,368 218.38,368.1 218.5,368.1 218.62,368.1 218.75,368.3 218.88,368.3 219,368.4 219.12,368.2 219.25,368 219.38,368.2 219.5,368.1 219.62,368 219.75,368 219.88,368 220,368.1 220.12,367.9 220.25,368.1 220.38,368.1 220.5,367.8 220.62,368 220.75,368.4 220.88,368.1 221,367.8 221.12,368.1 221.25,368.2 221.38,367.8 221.5,368 221.62,367.8 221.75,368 221.88,368.1 222,367.8 222.12,367.7 222.25,367.6 222.38,367.8 222.5,367.3 222.62,367.3 222.75,366.9 222.88,366.1 223,364.8 223.12,362.8 223.25,361.1 223.38,358.8 223.5,357.1 223.62,355.7 223.75,355.6 223.88,357 224,358.8 224.12,360.5 224.25,362.9 224.38,364.2 224.5,365.6 224.62,366.9 224.75,367.4 224.88,367.5 225,367.8 225.12,367.8 225.25,368.1 225.38,367.8 225.5,367.8 225.62,367.8 225.75,368.1 225.88,368.1 226,368.3 226.12,367.9 226.25,368.3 226.38,368.3 226.5,368.2 226.62,367.9 226.75,367.9 226.88,367.9 227,368 227.12,368.3 227.25,367.9 227.38,368.1 227.5,367.9 227.62,368.2 227.75,367.9 227.88,368.3 228,368.2 228.12,368 228.25,368.3 228.38,368.1 228.5,368.2 228.62,368.2 228.75,368 228.88,368.1 229,368.3 229.12,368.4 229.25,368.4 229.38,368.2 229.5,368.4 229.62,368 229.75,368.4 229.88,367.9 230,368.4 230.12,368.3 230.25,368.1 230.38,368.3 230.5,368.4 230.62,368 230.75,368.3 230.88,367.9 231,368.3 231.12,368 231.25,368.3 231.38,367.9 231.5,368.1 231.62,368.4 231.75,368.1 231.88,368.4 232,368.2 232.12,368 232.25,368.4 232.38,368 232.5,368.2 232.62,368.4 232.75,368.4 232.88,368.2 233,368 233.12,368.2 233.25,368.1 233.38,368.1 233.5,368.1 233.62,368 233.75,368 233.88,368.3 234,367.9 234.12,368.2 234.25,368.1 234.38,368.3 234.5,368.2 234.62,368.2 234.75,368.3 234.88,368.2 235,368.4 235.12,368.2 235.25,368.4 235.38,368.4 235.5,368.3 235.62,368.1 235.75,368.2 235.88,368 236,368.3 236.12,368.3 236.25,368.3 236.38,368 236.5,368 236.62,368.3 236.75,368.3 236.88,368 237,367.9 237.12,368.1 237.25,368.1 237.38,368 237.5,368 237.62,368 237.75,367.9 237.88,368 238,367.9 238.12,368.1 238.25,368.3 238.38,368.3 238.5,368.2 238.62,368.2 238.75,368 238.88,367.9 239,368 239.12,368.4 239.25,368.3 239.38,368.2 239.5,368.2 239.62,368.3 239.75,368.3 239.88,368 240,368.3 240.12,368.2 240.25,368 240.38,368.1 240.5,368 240.62,368.2 240.75,368.4 240.88,368.3 241,368 241.12,368 241.25,368 241.38,368 241.5,368 241.62,368.3 241.75,368 241.88,368.2 242,368 242.12,368.4 242.25,368.2 242.38,367.9 242.5,368.2 242.62,368 242.75,368.1 242.88,368 243,368.1 243.12,368 243.25,368 243.38,367.9 243.5,368.3 243.62,367.9 243.75,367.9 243.88,368 244,367.8 244.12,367.9 244.25,368 244.38,368 244.5,368 244.62,367.9 244.75,368 244.88,368 245,367.8 245.12,367.7 245.25,367.9 245.38,367.7 245.5,367.9 245.62,367.4 245.75,367.6 245.88,367.3 246,367 246.12,367 246.25,366 246.38,365.3 246.5,363.8 246.62,361.8 246.75,358.5 246.88,355.1 247,351.4 247.12,347.9 247.25,345.4 247.38,344 247.5,344.3 247.62,346.6 247.75,350.2 247.88,353.9 248,357.2 248.12,360.5 248.25,362.8 248.38,364.5 248.5,365.6 248.62,366.8 248.75,367 248.88,367.4 249,367.3 249.12,367.5 249.25,367.7 249.38,367.8 249.5,368 249.62,367.7 249.75,367.7 249.88,367.8 250,367.8 250.12,368.1 250.25,367.9 250.38,367.9 250.5,368 250.62,368 250.75,367.9 250.88,367.8 251,368.1 251.12,367.8 251.25,368.2 251.38,367.9 251.5,367.9 251.62,368.1 251.75,368.2 251.88,368 252,368.1 252.12,368 252.25,367.9 252.38,368 252.5,368.3 252.62,368.3 252.75,368 252.88,368.3 253,367.9 253.12,368.2 253.25,367.9 253.38,368.1 253.5,368 253.62,368.1 253.75,368.3 253.88,368 254,367.9 254.12,367.9 254.25,368.2 254.38,367.9 254.5,367.9 254.62,368 254.75,368.3 254.88,368.1 255,367.9 255.12,368.2 255.25,368 255.38,368.1 255.5,368.3 255.62,368.2 255.75,368.1 255.88,368.3 256,368.1 256.12,368.1 256.25,368.2 256.38,368.3 256.5,368.2 256.62,368 256.75,368 256.88,367.9 257,368 257.12,368.2 257.25,368.1 257.38,368.2 257.5,368.1 257.62,368.1 257.75,368.2 257.88,368 258,368.1 258.12,368 258.25,368 258.38,368.1 258.5,367.8 258.62,368.2 258.75,368.2 258.88,368.1 259,368 259.12,367.9 259.25,367.9 259.38,367.9 259.5,367.8 259.62,368 259.75,368 259.88,367.8 260,367.9 260.12,367.6 260.25,367.8 260.38,367.7 260.5,367.4 260.62,367.2 260.75,366.6 260.88,365.7 261,364.5 261.12,362.7 261.25,360.8 261.38,358.9 261.5,356.5 261.62,354.9 261.75,353.8 261.88,354.1 262,355.3 262.12,357.1 262.25,359 262.38,361.4 262.5,363.2 262.62,364.8 262.75,365.6 262.88,366.4 263,367.2 263.12,367.4 263.25,367.6 263.38,367.6 263.5,367.7 263.62,367.8 263.75,367.7 263.88,367.5 264,367.5 264.12,367.5 264.25,367.5 264.38,367.5 264.5,367.6 264.62,367.7 264.75,367.8 264.88,367.5 265,367.4 265.12,367.6 265.25,367.5 265.38,367.3 265.5,366.6 265.62,366.3 265.75,365.5 265.88,364.1 266,362.1 266.12,359.9 266.25,356.6 266.38,352.9 266.5,349.6 266.62,346.9 266.75,345.2 266.88,345.6 267,347.2 267.12,350.3 267.25,353.7 267.38,357.1 267.5,360.4 267.62,362.6 267.75,364.6 267.88,365.8 268,366.4 268.12,366.7 268.25,367.2 268.38,367.3 268.5,367.7 268.62,367.5 268.75,367.7 268.88,367.5 269,367.6 269.12,367.7 269.25,367.9 269.38,367.9 269.5,367.9 269.62,367.7 269.75,367.8 269.88,368.1 270,368 270.12,368 270.25,367.9 270.38,367.8 270.5,368.1 270.62,367.9 270.75,367.8 270.88,368 271,367.8 271.12,368.1 271.25,368.1 271.38,367.9 271.5,368 271.62,368 271.75,367.8 271.88,367.8 272,368 272.12,367.8 272.25,367.9 272.38,368 272.5,368.1 272.62,368 272.75,367.9 272.88,368.1 273,368.1 273.12,368.1 273.25,368.1 273.38,367.9 273.5,368.2 273.62,368.1 273.75,367.9 273.88,368.1 274,368.1 274.12,368.1 274.25,368 274.38,368.1 274.5,368.1 274.62,368.1 274.75,367.9 274.88,367.9 275,368.2 275.12,368 275.25,368.1 275.38,367.9 275.5,368.1 275.62,368.1 275.75,368.1 275.88,368.2 276,368 276.12,368 276.25,367.9 276.38,368 276.5,368 276.62,368.2 276.75,368 276.88,368.1 277,368.1 277.12,367.9 277.25,367.9 277.38,368 277.5,367.9 277.62,367.9 277.75,368.1 277.88,368.1 278,367.9 278.12,367.9 278.25,368.1 278.38,368 278.5,368 278.62,368.1 278.75,368.1 278.88,368.2 279,367.9 279.12,368.1 279.25,368 279.38,367.9 279.5,368 279.62,367.8 279.75,367.9 279.88,367.9 280,368.1 280.12,368.1 280.25,367.9 280.38,367.9 280.5,368.1 280.62,367.9 280.75,367.9 280.88,368.1 281,368 281.12,368 281.25,368 281.38,367.8 281.5,367.9 281.62,368.1 281.75,368 281.88,368.1 282,367.9 282.12,367.9 282.25,367.8 282.38,367.8 282.5,367.8 282.62,367.8 282.75,367.8 282.88,367.9 283,367.9 283.12,368 283.25,368 283.38,367.9 283.5,367.9 283.62,367.8 283.75,367.8 283.88,367.8 284,367.8 284.12,367.9 284.25,367.9 284.38,367.6 284.5,367.8 284.62,367.5 284.75,367.7 284.88,367.7 285,367.6 285.12,367.4 285.25,367.4 285.38,367.3 285.5,367.3 285.62,367.2 285.75,366.9 285.88,366.4 286,366 286.12,365 286.25,364.1 286.38,362.4 286.5,359.9 286.62,357.3 286.75,354 286.88,350.3 287,346.5 287.12,343.2 287.25,341.1 287.38,339.8 287.5,340.3 287.62,342.4 287.75,345.2 287.88,348.9 288,352.5 288.12,355.9 288.25,359 288.38,361.4 288.5,363.4 288.62,364.7 288.75,365.6 288.88,366.2 289,366.7 289.12,367.2 289.25,367.3 289.38,367.2 289.5,367.4 289.62,367.5 289.75,367.5 289.88,367.4 290,367.5 290.12,367.7 290.25,367.8 290.38,367.8 290.5,367.8 290.62,367.8 290.75,367.6 290.88,367.7 291,367.8 291.12,367.7 291.25,367.8 291.38,367.8 291.5,367.8 291.62,367.7 291.75,368 291.88,368 292,367.9 292.12,367.8 292.25,367.9 292.38,368 292.5,367.9 292.62,368 292.75,368 292.88,368.1 293,368 293.12,367.8 293.25,367.9 293.38,368.1 293.5,367.8 293.62,367.8 293.75,367.8 293.88,367.8 294,367.8 294.12,368 294.25,368 294.38,368 294.5,368 294.62,367.9 294.75,368 294.88,367.9 295,367.9 295.12,367.9 295.25,368 295.38,368 295.5,368 295.62,368 295.75,367.9 295.88,368 296,368.1 296.12,367.9 296.25,368 296.38,368 296.5,368 296.62,368 296.75,367.8 296.88,367.9 297,367.9 297.12,368 297.25,368 297.38,368 297.5,367.9 297.62,367.9 297.75,367.8 297.88,368 298,367.9 298.12,367.9 298.25,367.9 298.38,368.1 298.5,367.9 298.62,368.1 298.75,367.9 298.88,367.9 299,368 299.12,368 299.25,367.8 299.38,368 299.5,367.9 299.62,368 299.75,368 299.88,367.9 300,368 300.12,367.8 300.25,367.9 300.38,367.9 300.5,367.8 300.62,367.9 300.75,367.9 300.88,367.7 301,367.8 301.12,367.8 301.25,367.7 301.38,367.8 301.5,367.7 301.62,367.8 301.75,367.7 301.88,367.7 302,367.7 302.12,367.6 302.25,367.4 302.38,367.2 302.5,367 302.62,366.9 302.75,366.6 302.88,366.3 303,365.9 303.12,365.4 303.25,364.9 303.38,364.3 303.5,363.8 303.62,363.3 303.75,362.7 303.88,362.3 304,362 304.12,361.7 304.25,361.8 304.38,361.8 304.5,362.1 304.62,362.7 304.75,363.2 304.88,363.7 305,364.2 305.12,364.8 305.25,365.3 305.38,365.7 305.5,366 305.62,366.3 305.75,366.8 305.88,367 306,367.2 306.12,367.3 306.25,367.4 306.38,367.5 306.5,367.5 306.62,367.6 306.75,367.5 306.88,367.6 307,367.6 307.12,367.6 307.25,367.5 307.38,367.4 307.5,367.5 307.62,367.3 307.75,367.5 307.88,367.2 308,367.2 308.12,367 308.25,366.9 308.38,366.5 308.5,366.1 308.62,365.8 308.75,365.4 308.88,364.7 309,364.1 309.12,363.4 309.25,362.5 309.38,361.7 309.5,360.9 309.62,360 309.75,359.1 309.88,358.6 310,357.8 310.12,357.6 310.25,357.4 310.38,357.3 310.5,357.6 310.62,357.9 310.75,358.7 310.88,359.3 311,360.2 311.12,361.2 311.25,361.8 311.38,362.9 311.5,363.5 311.62,364.3 311.75,364.9 311.88,365.5 312,366 312.12,366.4 312.25,366.5 312.38,366.9 312.5,367.1 312.62,367.3 312.75,367.3 312.88,367.6 313,367.6 313.12,367.7 313.25,367.6 313.38,367.6 313.5,367.8 313.62,367.7 313.75,367.7 313.88,367.7 314,367.7 314.12,367.8 314.25,367.9 314.38,367.8 314.5,367.9 314.62,367.8 314.75,367.9 314.88,367.8 315,367.8 315.12,367.8 315.25,368 315.38,367.9 315.5,367.8 315.62,367.9 315.75,368 315.88,367.9 316,367.8 316.12,367.9 316.25,367.9 316.38,367.8 316.5,368 316.62,368 316.75,367.8 316.88,367.9 317,367.9 317.12,367.9 317.25,367.9 317.38,367.8 317.5,368 317.62,367.9 317.75,368 317.88,368 318,368 318.12,367.9 318.25,367.9 318.38,368 318.5,368 318.62,368 318.75,367.9 318.88,367.9 319,368 319.12,368 319.25,367.9 319.38,368 319.5,367.9 319.62,368 319.75,368 319.88,368 320,367.9 320.12,368.1 320.25,368.1 320.38,368.1 320.5,368 320.62,367.9 320.75,368.1 320.88,368 321,368 321.12,368 321.25,367.9 321.38,368 321.5,368 321.62,367.9 321.75,367.9 321.88,367.9 322,368 322.12,368.1 322.25,367.9 322.38,368 322.5,368 322.62,367.9 322.75,367.9 322.88,368 323,367.9 323.12,368 323.25,368 323.38,368 323.5,367.9 323.62,367.9 323.75,368 323.88,368.1 324,368 324.12,368 324.25,368 324.38,367.9 324.5,368 324.62,367.9"/>
<polyline class="c" points="68,359.1 68.12,359.1 68.25,359.1 68.38,359.2 68.5,359.2 68.62,359.2 68.75,359.2 68.88,359.3 69,359.3 69.12,359.3 69.25,359.3 69.38,359.4 69.5,359.4 69.62,359.4 69.75,359.4 69.88,359.5 70,359.5 70.12,359.5 70.25,359.5 70.38,359.6 70.5,359.6 70.62,359.6 70.75,359.6 70.88,359.7 71,359.7 71.12,359.7 71.25,359.7 71.38,359.8 71.5,359.8 71.62,359.8 71.75,359.8 71.88,359.9 72,359.9 72.12,359.9 72.25,359.9 72.38,359.9 72.5,360 72.62,360 72.75,360 72.88,360 73,360.1 73.12,360.1 73.25,360.1 73.38,360.1 73.5,360.2 73.62,360.2 73.75,360.2 73.88,360.2 74,360.2 74.12,360.3 74.25,360.3 74.38,360.3 74.5,360.3 74.62,360.3 74.75,360.4 74.88,360.4 75,360.4 75.12,360.4 75.25,360.5 75.38,360.5 75.5,360.5 75.62,360.5 75.75,360.5 75.88,360.6 76,360.6 76.12,360.6 76.25,360.6 76.38,360.6 76.5,360.7 76.62,360.7 76.75,360.7 76.88,360.7 77,360.7 77.12,360.7 77.25,360.8 77.38,360.8 77.5,360.8 77.62,360.8 77.75,360.8 77.88,360.9 78,360.9 78.12,360.9 78.25,360.9 78.38,360.9 78.5,360.9 78.62,360.9 78.75,361 78.88,361 79,361 79.12,361 79.25,361 79.38,361 79.5,361 79.62,361 79.75,361.1 79.88,361.1 80,361.1 80.12,361.1 80.25,361.1 80.38,361.1 80.5,361.1 80.62,361.1 80.75,361.1 80.88,361.1 81,361.1 81.12,361.1 81.25,361.1 81.38,361.1 81.5,361 81.62,361 81.75,361 81.88,361 82,360.9 82.12,360.9 82.25,360.8 82.38,360.7 82.5,360.6 82.62,360.5 82.75,360.4 82.88,360.1 83,359.8 83.12,359.2 83.25,358.3 83.38,356.9 83.5,354.7 83.62,351.5 83.75,347.1 83.88,341.3 84,334.5 84.12,326.8 84.25,319.2 84.38,312.6 84.5,308.3 84.62,307.2 84.75,309.7 84.88,315.1 85,322.3 85.12,330.1 85.25,337.5 85.38,344 85.5,349.2 85.62,353.2 85.75,356 85.88,357.8 86,359.1 86.12,359.9 86.25,360.4 86.38,360.7 86.5,360.9 86.62,361.1 86.75,361.2 86.88,361.3 87,361.4 87.12,361.5 87.25,361.6 87.38,361.7 87.5,361.7 87.62,361.8 87.75,361.8 87.88,361.9 88,361.9 88.12,362 88.25,362 88.38,362 88.5,362.1 88.62,362.1 88.75,362.1 88.88,362.1 89,362.2 89.12,362.2 89.25,362.2 89.38,362.2 89.5,362.2 89.62,362.2 89.75,362.2 89.88,362.3 90,362.3 90.12,362.3 90.25,362.3 90.38,362.3 90.5,362.3 90.62,362.2 90.75,362.2 90.88,362.2 91,362.2 91.12,362.2 91.25,362.1 91.38,362.1 91.5,362 91.62,362 91.75,361.9 91.88,361.8 92,361.7 92.12,361.6 92.25,361.4 92.38,361.1 92.5,360.7 92.62,360 92.75,359 92.88,357.3 93,354.8 93.12,351.1 93.25,346 93.38,339.4 93.5,331.4 93.62,322.6 93.75,313.8 93.88,306.2 94,301.2 94.12,299.9 94.25,302.8 94.38,309.1 94.5,317.4 94.62,326.3 94.75,334.9 94.88,342.4 95,348.4 95.12,353 95.25,356.2 95.38,358.4 95.5,359.8 95.62,360.7 95.75,361.3 95.88,361.7 96,362 96.12,362.2 96.25,362.3 96.38,362.4 96.5,362.6 96.62,362.7 96.75,362.7 96.88,362.8 97,362.9 97.12,363 97.25,363 97.38,363.1 97.5,363.1 97.62,363.2 97.75,363.2 97.88,363.3 98,363.3 98.12,363.3 98.25,363.4 98.38,363.4 98.5,363.4 98.62,363.5 98.75,363.5 98.88,363.5 99,363.5 99.12,363.6 99.25,363.6 99.38,363.6 99.5,363.6 99.62,363.6 99.75,363.7 99.88,363.7 100,363.7 100.12,363.7 100.25,363.7 100.38,363.8 100.5,363.8 100.62,363.8 100.75,363.8 100.88,363.8 101,363.9 101.12,363.9 101.25,363.9 101.38,363.9 101.5,363.9 101.62,363.9 101.75,363.9 101.88,364 102,364 102.12,364 102.25,364 102.38,364 102.5,364 102.62,364.1 102.75,364.1 102.88,364.1 103,364.1 103.12,364.1 103.25,364.1 103.38,364.1 103.5,364.1 103.62,364.2 103.75,364.2 103.88,364.2 104,364.2 104.12,364.2 104.25,364.2 104.38,364.2 104.5,364.3 104.62,364.3 104.75,364.3 104.88,364.3 105,364.3 105.12,364.3 105.25,364.3 105.38,364.3 105.5,364.3 105.62,364.4 105.75,364.4 105.88,364.4 106,364.4 106.12,364.4 106.25,364.4 106.38,364.4 106.5,364.4 106.62,364.5 106.75,364.5 106.88,364.5 107,364.5 107.12,364.5 107.25,364.5 107.38,364.5 107.5,364.5 107.62,364.5 107.75,364.6 107.88,364.6 108,364.6 108.12,364.6 108.25,364.6 108.38,364.6 108.5,364.6 108.62,364.6 108.75,364.6 108.88,364.6 109,364.7 109.12,364.7 109.25,364.7 109.38,364.7 109.5,364.7 109.62,364.7 109.75,364.7 109.88,364.7 110,364.7 110.12,364.7 110.25,364.8 110.38,364.8 110.5,364.8 110.62,364.8 110.75,364.8 110.88,364.8 111,364.8 111.12,364.8 111.25,364.8 111.38,364.8 111.5,364.9 111.62,364.9 111.75,364.9 111.88,364.9 112,364.9 112.12,364.9 112.25,364.9 112.38,364.9 112.5,364.9 112.62,364.9 112.75,364.9 112.88,364.9 113,365 113.12,365 113.25,365 113.38,365 113.5,365 113.62,365 113.75,365 113.88,365 114,365 114.12,365 114.25,365 114.38,365 114.5,365 114.62,365.1 114.75,365.1 114.88,365.1 115,365.1 115.12,365.1 115.25,365.1 115.38,365.1 115.5,365.1 115.62,365.1 115.75,365.1 115.88,365.1 116,365.1 116.12,365.1 116.25,365.1 116.38,365.1 116.5,365.1 116.62,365.1 116.75,365.1 116.88,365.2 117,365.2 117.12,365.2 117.25,365.2 117.38,365.2 117.5,365.2 117.62,365.2 117.75,365.2 117.88,365.2 118,365.2 118.12,365.2 118.25,365.2 118.38,365.2 118.5,365.2 118.62,365.2 118.75,365.2 118.88,365.1 119,365.1 119.12,365.1 119.25,365.1 119.38,365.1 119.5,365.1 119.62,365.1 119.75,365.1 119.88,365.1 120,365.1 120.12,365 120.25,365 120.38,365 120.5,365 120.62,364.9 120.75,364.9 120.88,364.8 121,364.8 121.12,364.8 121.25,364.7 121.38,364.6 121.5,364.6 121.62,364.5 121.75,364.4 121.88,364.3 122,364.1 122.12,364 122.25,363.8 122.38,363.6 122.5,363.3 122.62,363 122.75,362.5 122.88,361.8 123,360.7 123.12,358.9 123.25,355.9 123.38,351.4 123.5,344.6 123.62,335 123.75,322.4 123.88,307 124,289.9 124.12,272.9 124.25,258.5 124.38,249.8 124.5,249 124.62,256.3 124.75,269.7 124.88,286.5 125,303.7 125.12,319.6 125.25,332.8 125.38,343 125.5,350.4 125.62,355.3 125.75,358.5 125.88,360.5 126,361.8 126.12,362.6 126.25,363.1 126.38,363.5 126.5,363.8 126.62,364 126.75,364.2 126.88,364.4 127,364.5 127.12,364.7 127.25,364.8 127.38,364.9 127.5,365 127.62,365.1 127.75,365.1 127.88,365.2 128,365.3 128.12,365.3 128.25,365.4 128.38,365.4 128.5,365.5 128.62,365.5 128.75,365.5 128.88,365.6 129,365.6 129.12,365.6 129.25,365.7 129.38,365.7 129.5,365.7 129.62,365.7 129.75,365.8 129.88,365.8 130,365.8 130.12,365.8 130.25,365.8 130.38,365.9 130.5,365.9 130.62,365.9 130.75,365.9 130.88,365.9 131,365.9 131.12,366 131.25,366 131.38,366 131.5,366 131.62,366 131.75,366 131.88,366 132,366.1 132.12,366.1 132.25,366.1 132.38,366.1 132.5,366.1 132.62,366.1 132.75,366.1 132.88,366.1 133,366.1 133.12,366.1 133.25,366.2 133.38,366.2 133.5,366.2 133.62,366.2 133.75,366.2 133.88,366.2 134,366.2 134.12,366.2 134.25,366.2 134.38,366.2 134.5,366.2 134.62,366.2 134.75,366.2 134.88,366.3 135,366.3 135.12,366.3 135.25,366.3 135.38,366.3 135.5,366.3 135.62,366.3 135.75,366.3 135.88,366.3 136,366.3 136.12,366.3 136.25,366.3 136.38,366.3 136.5,366.3 136.62,366.3 136.75,366.3 136.88,366.3 137,366.4 137.12,366.4 137.25,366.4 137.38,366.4 137.5,366.4 137.62,366.4 137.75,366.4 137.88,366.4 138,366.4 138.12,366.4 138.25,366.4 138.38,366.4 138.5,366.4 138.62,366.4 138.75,366.4 138.88,366.4 139,366.4 139.12,366.4 139.25,366.4 139.38,366.4 139.5,366.4 139.62,366.3 139.75,366.3 139.88,366.3 140,366.3 140.12,366.3 140.25,366.3 140.38,366.3 140.5,366.2 140.62,366.2 140.75,366.2 140.88,366.1 141,366.1 141.12,366 141.25,365.9 141.38,365.8 141.5,365.6 141.62,365.3 141.75,364.7 141.88,363.9 142,362.5 142.12,360.4 142.25,357.5 142.38,353.7 142.5,349.3 142.62,344.5 142.75,340 142.88,336.8 143,335.6 143.12,336.8 143.25,340.1 143.38,344.5 143.5,349.3 143.62,353.8 143.75,357.6 143.88,360.5 144,362.5 144.12,363.9 144.25,364.8 144.38,365.3 144.5,365.6 144.62,365.8 144.75,366 144.88,366.1 145,366.1 145.12,366.2 145.25,366.2 145.38,366.3 145.5,366.3 145.62,366.3 145.75,366.4 145.88,366.4 146,366.4 146.12,366.4 146.25,366.4 146.38,366.4 146.5,366.4 146.62,366.3 146.75,366.3 146.88,366.3 147,366.2 147.12,366.1 147.25,366 147.38,365.8 147.5,365.5 147.62,365 147.75,364.1 147.88,362.7 148,360.7 148.12,358.1 148.25,354.8 148.38,351.2 148.5,347.5 148.62,344.6 148.75,343 148.88,343.1 149,345.1 149.12,348.3 149.25,352 149.38,355.6 149.5,358.8 149.62,361.3 149.75,363.2 149.88,364.4 150,365.3 150.12,365.8 150.25,366.1 150.38,366.3 150.5,366.4 150.62,366.5 150.75,366.6 150.88,366.6 151,366.7 151.12,366.7 151.25,366.7 151.38,366.8 151.5,366.8 151.62,366.8 151.75,366.8 151.88,366.9 152,366.9 152.12,366.9 152.25,366.9 152.38,366.9 152.5,366.9 152.62,367 152.75,367 152.88,367 153,367 153.12,367 153.25,367 153.38,367 153.5,367 153.62,367 153.75,367 153.88,367.1 154,367.1 154.12,367.1 154.25,367.1 154.38,367.1 154.5,367.1 154.62,367.1 154.75,367.1 154.88,367.1 155,367.1 155.12,367.1 155.25,367.1 155.38,367.1 155.5,367.1 155.62,367.1 155.75,367.2 155.88,367.2 156,367.2 156.12,367.2 156.25,367.2 156.38,367.2 156.5,367.2 156.62,367.2 156.75,367.2 156.88,367.2 157,367.2 157.12,367.2 157.25,367.2 157.38,367.2 157.5,367.2 157.62,367.2 157.75,367.2 157.88,367.2 158,367.2 158.12,367.2 158.25,367.3 158.38,367.3 158.5,367.3 158.62,367.3 158.75,367.3 158.88,367.3 159,367.3 159.12,367.3 159.25,367.3 159.38,367.3 159.5,367.3 159.62,367.3 159.75,367.3 159.88,367.3 160,367.3 160.12,367.3 160.25,367.3 160.38,367.3 160.5,367.3 160.62,367.3 160.75,367.3 160.88,367.3 161,367.3 161.12,367.3 161.25,367.3 161.38,367.3 161.5,367.4 161.62,367.4 161.75,367.4 161.88,367.4 162,367.4 162.12,367.4 162.25,367.4 162.38,367.4 162.5,367.4 162.62,367.4 162.75,367.4 162.88,367.4 163,367.4 163.12,367.4 163.25,367.4 163.38,367.4 163.5,367.4 163.62,367.4 163.75,367.4 163.88,367.4 164,367.4 164.12,367.4 164.25,367.4 164.38,367.4 164.5,367.4 164.62,367.4 164.75,367.4 164.88,367.4 165,367.4 165.12,367.4 165.25,367.4 165.38,367.4 165.5,367.4 165.62,367.4 165.75,367.4 165.88,367.4 166,367.4 166.12,367.4 166.25,367.4 166.38,367.4 166.5,367.4 166.62,367.4 166.75,367.4 166.88,367.4 167,367.4 167.12,367.4 167.25,367.4 167.38,367.3 167.5,367.3 167.62,367.3 167.75,367.3 167.88,367.3 168,367.2 168.12,367.2 168.25,367.2 168.38,367.1 168.5,367.1 168.62,367 168.75,366.9 168.88,366.7 169,366.4 169.12,366 169.25,365.1 169.38,363.9 169.5,361.9 169.62,359.2 169.75,355.8 169.88,351.8 170,347.8 170.12,344.5 170.25,342.6 170.38,342.9 170.5,345.1 170.62,348.6 170.75,352.7 170.88,356.6 171,359.9 171.12,362.4 171.25,364.2 171.38,365.4 171.5,366.1 171.62,366.6 171.75,366.8 171.88,367 172,367.1 172.12,367.2 172.25,367.2 172.38,367.3 172.5,367.3 172.62,367.4 172.75,367.4 172.88,367.4 173,367.4 173.12,367.5 173.25,367.5 173.38,367.5 173.5,367.5 173.62,367.5 173.75,367.5 173.88,367.6 174,367.6 174.12,367.6 174.25,367.6 174.38,367.6 174.5,367.6 174.62,367.6 174.75,367.6 174.88,367.6 175,367.6 175.12,367.6 175.25,367.6 175.38,367.6 175.5,367.7 175.62,367.7 175.75,367.7 175.88,367.7 176,367.7 176.12,367.7 176.25,367.7 176.38,367.7 176.5,367.7 176.62,367.7 176.75,367.7 176.88,367.7 177,367.7 177.12,367.7 177.25,367.7 177.38,367.7 177.5,367.7 177.62,367.7 177.75,367.7 177.88,367.7 178,367.7 178.12,367.7 178.25,367.7 178.38,367.7 178.5,367.7 178.62,367.7 178.75,367.7 178.88,367.7 179,367.7 179.12,367.7 179.25,367.7 179.38,367.7 179.5,367.7 179.62,367.7 179.75,367.7 179.88,367.7 180,367.7 180.12,367.7 180.25,367.7 180.38,367.7 180.5,367.7 180.62,367.7 180.75,367.7 180.88,367.7 181,367.7 181.12,367.7 181.25,367.7 181.38,367.7 181.5,367.7 181.62,367.7 181.75,367.7 181.88,367.7 182,367.7 182.12,367.7 182.25,367.7 182.38,367.7 182.5,367.7 182.62,367.7 182.75,367.7 182.88,367.6 183,367.6 183.12,367.6 183.25,367.6 183.38,367.5 183.5,367.5 183.62,367.4 183.75,367.4 183.88,367.3 184,367.1 184.12,366.8 184.25,366.2 184.38,365.4 184.5,364.2 184.62,362.4 184.75,360.2 184.88,357.6 185,355 185.12,352.9 185.25,351.7 185.38,351.8 185.5,353.2 185.62,355.5 185.75,358.1 185.88,360.6 186,362.8 186.12,364.4 186.25,365.5 186.38,366.3 186.5,366.8 186.62,367 186.75,367.2 186.88,367.3 187,367.3 187.12,367.3 187.25,367.4 187.38,367.4 187.5,367.4 187.62,367.4 187.75,367.3 187.88,367.3 188,367.3 188.12,367.2 188.25,367.2 188.38,367.1 188.5,367 188.62,366.9 188.75,366.7 188.88,366.4 189,366 189.12,365.2 189.25,363.9 189.38,361.8 189.5,358.6 189.62,354.1 189.75,348.4 189.88,341.9 190,335.3 190.12,329.8 190.25,326.7 190.38,327.1 190.5,330.7 190.62,336.6 190.75,343.3 190.88,349.7 191,355.1 191.12,359.3 191.25,362.3 191.38,364.3 191.5,365.5 191.62,366.2 191.75,366.6 191.88,366.9 192,367.1 192.12,367.2 192.25,367.3 192.38,367.4 192.5,367.4 192.62,367.5 192.75,367.5 192.88,367.6 193,367.6 193.12,367.7 193.25,367.7 193.38,367.7 193.5,367.7 193.62,367.8 193.75,367.8 193.88,367.8 194,367.8 194.12,367.8 194.25,367.8 194.38,367.8 194.5,367.9 194.62,367.9 194.75,367.9 194.88,367.9 195,367.9 195.12,367.9 195.25,367.9 195.38,367.9 195.5,367.9 195.62,367.9 195.75,367.9 195.88,367.9 196,367.9 196.12,368 196.25,368 196.38,368 196.5,368 196.62,368 196.75,368 196.88,368 197,368 197.12,368 197.25,368 197.38,368 197.5,368 197.62,368 197.75,368 197.88,368 198,368 198.12,368 198.25,368 198.38,368 198.5,368 198.62,368 198.75,368 198.88,368 199,368 199.12,368 199.25,368 199.38,368 199.5,368 199.62,368 199.75,368 199.88,368 200,368 200.12,368 200.25,368 200.38,368 200.5,368 200.62,368 200.75,368 200.88,368 201,368 201.12,368 201.25,368 201.38,368 201.5,368 201.62,368 201.75,368 201.88,368 202,368 202.12,368 202.25,368 202.38,368 202.5,368 202.62,368 202.75,368 202.88,368 203,368 203.12,368 203.25,368 203.38,368 203.5,368 203.62,368 203.75,368 203.88,368 204,368 204.12,368 204.25,368 204.38,368 204.5,368 204.62,368 204.75,368 204.88,367.9 205,367.9 205.12,367.9 205.25,367.9 205.38,367.9 205.5,367.9 205.62,367.9 205.75,367.9 205.88,367.9 206,367.8 206.12,367.8 206.25,367.8 206.38,367.8 206.5,367.7 206.62,367.7 206.75,367.7 206.88,367.6 207,367.6 207.12,367.5 207.25,367.5 207.38,367.4 207.5,367.3 207.62,367.2 207.75,367.1 207.88,367 208,366.8 208.12,366.6 208.25,366.2 208.38,365.7 208.5,364.7 208.62,363.1 208.75,360.3 208.88,355.9 209,349.4 209.12,340.6 209.25,329.9 209.38,318.4 209.5,308.1 209.62,301.6 209.75,301 209.88,306.5 210,316.2 210.12,327.6 210.25,338.6 210.38,347.8 210.5,354.8 210.62,359.6 210.75,362.7 210.88,364.5 211,365.5 211.12,366.1 211.25,366.5 211.38,366.8 211.5,367 211.62,367.1 211.75,367.2 211.88,367.3 212,367.4 212.12,367.5 212.25,367.6 212.38,367.6 212.5,367.7 212.62,367.7 212.75,367.7 212.88,367.8 213,367.8 213.12,367.8 213.25,367.9 213.38,367.9 213.5,367.9 213.62,367.9 213.75,367.9 213.88,367.9 214,368 214.12,368 214.25,368 214.38,368 214.5,368 214.62,368 214.75,368 214.88,368 215,368 215.12,368 215.25,368 215.38,368.1 215.5,368.1 215.62,368.1 215.75,368.1 215.88,368.1 216,368.1 216.12,368.1 216.25,368.1 216.38,368.1 216.5,368.1 216.62,368.1 216.75,368.1 216.88,368.1 217,368.1 217.12,368.1 217.25,368.1 217.38,368.1 217.5,368.1 217.62,368.1 217.75,368.1 217.88,368.1 218,368.1 218.12,368.1 218.25,368.1 218.38,368.1 218.5,368.1 218.62,368.1 218.75,368.1 218.88,368.1 219,368.1 219.12,368.1 219.25,368.1 219.38,368.1 219.5,368.1 219.62,368.1 219.75,368.1 219.88,368.1 220,368.1 220.12,368.1 220.25,368.1 220.38,368.1 220.5,368.1 220.62,368.1 220.75,368.1 220.88,368.1 221,368.1 221.12,368.1 221.25,368.1 221.38,368 221.5,368 221.62,368 221.75,368 221.88,368 222,367.9 222.12,367.9 222.25,367.8 222.38,367.7 222.5,367.5 222.62,367.2 222.75,366.7 222.88,365.9 223,364.7 223.12,363 223.25,361 223.38,358.8 223.5,356.9 223.62,355.7 223.75,355.6 223.88,356.6 224,358.4 224.12,360.6 224.25,362.6 224.38,364.4 224.5,365.7 224.62,366.6 224.75,367.2 224.88,367.5 225,367.7 225.12,367.8 225.25,367.9 225.38,367.9 225.5,368 225.62,368 225.75,368 225.88,368 226,368.1 226.12,368.1 226.25,368.1 226.38,368.1 226.5,368.1 226.62,368.1 226.75,368.1 226.88,368.1 227,368.1 227.12,368.1 227.25,368.1 227.38,368.1 227.5,368.1 227.62,368.2 227.75,368.2 227.88,368.2 228,368.2 228.12,368.2 228.25,368.2 228.38,368.2 228.5,368.2 228.62,368.2 228.75,368.2 228.88,368.2 229,368.2 229.12,368.2 229.25,368.2 229.38,368.2 229.5,368.2 229.62,368.2 229.75,368.2 229.88,368.2 230,368.2 230.12,368.2 230.25,368.2 230.38,368.2 230.5,368.2 230.62,368.2 230.75,368.2 230.88,368.2 231,368.2 231.12,368.2 231.25,368.2 231.38,368.2 231.5,368.2 231.62,368.2 231.75,368.2 231.88,368.2 232,368.2 232.12,368.2 232.25,368.2 232.38,368.2 232.5,368.2 232.62,368.2 232.75,368.2 232.88,368.2 233,368.2 233.12,368.2 233.25,368.2 233.38,368.2 233.5,368.2 233.62,368.2 233.75,368.2 233.88,368.2 234,368.2 234.12,368.2 234.25,368.2 234.38,368.2 234.5,368.2 234.62,368.2 234.75,368.2 234.88,368.2 235,368.2 235.12,368.2 235.25,368.2 235.38,368.2 235.5,368.2 235.62,368.2 235.75,368.2 235.88,368.2 236,368.2 236.12,368.2 236.25,368.2 236.38,368.2 236.5,368.2 236.62,368.2 236.75,368.2 236.88,368.2 237,368.2 237.12,368.2 237.25,368.2 237.38,368.2 237.5,368.2 237.62,368.2 237.75,368.2 237.88,368.2 238,368.2 238.12,368.2 238.25,368.2 238.38,368.2 238.5,368.2 238.62,368.2 238.75,368.2 238.88,368.2 239,368.2 239.12,368.2 239.25,368.2 239.38,368.2 239.5,368.2 239.62,368.2 239.75,368.2 239.88,368.2 240,368.2 240.12,368.2 240.25,368.2 240.38,368.2 240.5,368.2 240.62,368.2 240.75,368.2 240.88,368.1 241,368.1 241.12,368.1 241.25,368.1 241.38,368.1 241.5,368.1 241.62,368.1 241.75,368.1 241.88,368.1 242,368.1 242.12,368.1 242.25,368.1 242.38,368.1 242.5,368.1 242.62,368.1 242.75,368.1 242.88,368.1 243,368.1 243.12,368.1 243.25,368.1 243.38,368.1 243.5,368.1 243.62,368.1 243.75,368 243.88,368 244,368 244.12,368 244.25,368 244.38,368 244.5,368 244.62,368 244.75,367.9 244.88,367.9 245,367.9 245.12,367.8 245.25,367.8 245.38,367.8 245.5,367.7 245.62,367.6 245.75,367.5 245.88,367.4 246,367.2 246.12,366.8 246.25,366.1 246.38,365.2 246.5,363.6 246.62,361.5 246.75,358.6 246.88,355.2 247,351.4 247.12,347.8 247.25,345 247.38,343.7 247.5,344.3 247.62,346.6 247.75,349.9 247.88,353.7 248,357.3 248.12,360.4 248.25,362.9 248.38,364.6 248.5,365.8 248.62,366.5 248.75,367 248.88,367.3 249,367.5 249.12,367.6 249.25,367.7 249.38,367.7 249.5,367.8 249.62,367.8 249.75,367.8 249.88,367.9 250,367.9 250.12,367.9 250.25,367.9 250.38,368 250.5,368 250.62,368 250.75,368 250.88,368 251,368 251.12,368 251.25,368 251.38,368 251.5,368 251.62,368 251.75,368.1 251.88,368.1 252,368.1 252.12,368.1 252.25,368.1 252.38,368.1 252.5,368.1 252.62,368.1 252.75,368.1 252.88,368.1 253,368.1 253.12,368.1 253.25,368.1 253.38,368.1 253.5,368.1 253.62,368.1 253.75,368.1 253.88,368.1 254,368.1 254.12,368.1 254.25,368.1 254.38,368.1 254.5,368.1 254.62,368.1 254.75,368.1 254.88,368.1 255,368.1 255.12,368.1 255.25,368.1 255.38,368.1 255.5,368.1 255.62,368.1 255.75,368.1 255.88,368.1 256,368.1 256.12,368.1 256.25,368.1 256.38,368.1 256.5,368.1 256.62,368.1 256.75,368.1 256.88,368.1 257,368.1 257.12,368.1 257.25,368.1 257.38,368.1 257.5,368.1 257.62,368 257.75,368 257.88,368 258,368 258.12,368 258.25,368 258.38,368 258.5,368 258.62,368 258.75,368 258.88,368 259,368 259.12,368 259.25,367.9 259.38,367.9 259.5,367.9 259.62,367.9 259.75,367.8 259.88,367.8 260,367.8 260.12,367.7 260.25,367.6 260.38,367.5 260.5,367.3 260.62,367 260.75,366.4 260.88,365.6 261,364.4 261.12,362.8 261.25,360.8 261.38,358.6 261.5,356.5 261.62,354.7 261.75,353.7 261.88,353.8 262,355 262.12,356.9 262.25,359.1 262.38,361.2 262.5,363.1 262.62,364.6 262.75,365.7 262.88,366.5 263,367 263.12,367.3 263.25,367.4 263.38,367.5 263.5,367.6 263.62,367.6 263.75,367.7 263.88,367.7 264,367.7 264.12,367.7 264.25,367.7 264.38,367.7 264.5,367.7 264.62,367.6 264.75,367.6 264.88,367.6 265,367.5 265.12,367.4 265.25,367.3 265.38,367.1 265.5,366.8 265.62,366.3 265.75,365.4 265.88,364.1 266,362.2 266.12,359.6 266.25,356.5 266.38,353 266.5,349.5 266.62,346.6 266.75,345.1 266.88,345.3 267,347.1 267.12,350.2 267.25,353.7 267.38,357.2 267.5,360.2 267.62,362.6 267.75,364.4 267.88,365.6 268,366.4 268.12,366.9 268.25,367.2 268.38,367.4 268.5,367.5 268.62,367.6 268.75,367.6 268.88,367.7 269,367.7 269.12,367.8 269.25,367.8 269.38,367.8 269.5,367.8 269.62,367.9 269.75,367.9 269.88,367.9 270,367.9 270.12,367.9 270.25,367.9 270.38,367.9 270.5,367.9 270.62,368 270.75,368 270.88,368 271,368 271.12,368 271.25,368 271.38,368 271.5,368 271.62,368 271.75,368 271.88,368 272,368 272.12,368 272.25,368 272.38,368 272.5,368 272.62,368 272.75,368 272.88,368 273,368 273.12,368 273.25,368 273.38,368 273.5,368 273.62,368 273.75,368 273.88,368 274,368 274.12,368 274.25,368 274.38,368 274.5,368 274.62,368 274.75,368 274.88,368 275,368 275.12,368 275.25,368 275.38,368 275.5,368 275.62,368 275.75,368 275.88,368 276,368 276.12,368 276.25,368 276.38,368 276.5,368 276.62,368 276.75,368 276.88,368 277,368 277.12,368 277.25,368 277.38,368 277.5,368 277.62,368 277.75,368 277.88,368 278,368 278.12,368 278.25,368 278.38,368 278.5,368 278.62,368 278.75,368 278.88,368 279,368 279.12,368 279.25,368 279.38,368 279.5,368 279.62,368 279.75,368 279.88,368 280,368 280.12,368 280.25,368 280.38,368 280.5,368 280.62,368 280.75,368 280.88,368 281,368 281.12,368 281.25,368 281.38,368 281.5,368 281.62,368 281.75,368 281.88,368 282,367.9 282.12,367.9 282.25,367.9 282.38,367.9 282.5,367.9 282.62,367.9 282.75,367.9 282.88,367.9 283,367.9 283.12,367.9 283.25,367.9 283.38,367.9 283.5,367.9 283.62,367.8 283.75,367.8 283.88,367.8 284,367.8 284.12,367.8 284.25,367.8 284.38,367.7 284.5,367.7 284.62,367.7 284.75,367.6 284.88,367.6 285,367.6 285.12,367.5 285.25,367.4 285.38,367.4 285.5,367.2 285.62,367.1 285.75,366.8 285.88,366.5 286,365.9 286.12,365.1 286.25,363.9 286.38,362.2 286.5,360 286.62,357.2 286.75,353.9 286.88,350.2 287,346.5 287.12,343.2 287.25,340.8 287.38,339.7 287.5,340.2 287.62,342.1 287.75,345.1 287.88,348.7 288,352.4 288.12,355.9 288.25,358.9 288.38,361.4 288.5,363.3 288.62,364.7 288.75,365.6 288.88,366.3 289,366.7 289.12,367 289.25,367.2 289.38,367.3 289.5,367.4 289.62,367.5 289.75,367.5 289.88,367.6 290,367.6 290.12,367.6 290.25,367.7 290.38,367.7 290.5,367.7 290.62,367.7 290.75,367.8 290.88,367.8 291,367.8 291.12,367.8 291.25,367.8 291.38,367.8 291.5,367.8 291.62,367.9 291.75,367.9 291.88,367.9 292,367.9 292.12,367.9 292.25,367.9 292.38,367.9 292.5,367.9 292.62,367.9 292.75,367.9 292.88,367.9 293,367.9 293.12,367.9 293.25,367.9 293.38,367.9 293.5,367.9 293.62,367.9 293.75,367.9 293.88,367.9 294,367.9 294.12,367.9 294.25,367.9 294.38,367.9 294.5,367.9 294.62,367.9 294.75,367.9 294.88,368 295,368 295.12,368 295.25,368 295.38,368 295.5,368 295.62,368 295.75,368 295.88,368 296,368 296.12,368 296.25,368 296.38,368 296.5,368 296.62,368 296.75,368 296.88,368 297,368 297.12,368 297.25,368 297.38,368 297.5,367.9 297.62,367.9 297.75,367.9 297.88,367.9 298,367.9 298.12,367.9 298.25,367.9 298.38,367.9 298.5,367.9 298.62,367.9 298.75,367.9 298.88,367.9 299,367.9 299.12,367.9 299.25,367.9 299.38,367.9 299.5,367.9 299.62,367.9 299.75,367.9 299.88,367.9 300,367.9 300.12,367.9 300.25,367.9 300.38,367.9 300.5,367.9 300.62,367.9 300.75,367.9 300.88,367.8 301,367.8 301.12,367.8 301.25,367.8 301.38,367.8 301.5,367.8 301.62,367.7 301.75,367.7 301.88,367.7 302,367.6 302.12,367.5 302.25,367.4 302.38,367.2 302.5,367 302.62,366.8 302.75,366.5 302.88,366.1 303,365.7 303.12,365.2 303.25,364.7 303.38,364.1 303.5,363.5 303.62,363 303.75,362.4 303.88,362 304,361.6 304.12,361.4 304.25,361.4 304.38,361.6 304.5,361.9 304.62,362.3 304.75,362.8 304.88,363.4 305,364 305.12,364.5 305.25,365.1 305.38,365.5 305.5,366 305.62,366.3 305.75,366.6 305.88,366.9 306,367.1 306.12,367.2 306.25,367.4 306.38,367.4 306.5,367.5 306.62,367.5 306.75,367.6 306.88,367.6 307,367.6 307.12,367.6 307.25,367.5 307.38,367.5 307.5,367.5 307.62,367.4 307.75,367.4 307.88,367.3 308,367.1 308.12,367 308.25,366.8 308.38,366.5 308.5,366.2 308.62,365.7 308.75,365.2 308.88,364.7 309,364 309.12,363.3 309.25,362.4 309.38,361.6 309.5,360.7 309.62,359.8 309.75,359 309.88,358.2 310,357.6 310.12,357.2 310.25,357 310.38,357 310.5,357.3 310.62,357.7 310.75,358.4 310.88,359.1 311,360 311.12,360.9 311.25,361.8 311.38,362.6 311.5,363.4 311.62,364.2 311.75,364.8 311.88,365.4 312,365.9 312.12,366.3 312.25,366.6 312.38,366.9 312.5,367.1 312.62,367.2 312.75,367.4 312.88,367.5 313,367.5 313.12,367.6 313.25,367.6 313.38,367.7 313.5,367.7 313.62,367.7 313.75,367.7 313.88,367.8 314,367.8 314.12,367.8 314.25,367.8 314.38,367.8 314.5,367.8 314.62,367.8 314.75,367.8 314.88,367.9 315,367.9 315.12,367.9 315.25,367.9 315.38,367.9 315.5,367.9 315.62,367.9 315.75,367.9 315.88,367.9 316,367.9 316.12,367.9 316.25,367.9 316.38,367.9 316.5,367.9 316.62,367.9 316.75,367.9 316.88,367.9 317,367.9 317.12,367.9 317.25,367.9 317.38,367.9 317.5,367.9 317.62,367.9 317.75,367.9 317.88,367.9 318,367.9 318.12,367.9 318.25,367.9 318.38,367.9 318.5,367.9 318.62,367.9 318.75,368 318.88,368 319,368 319.12,368 319.25,368 319.38,368 319.5,368 319.62,368 319.75,368 319.88,368 320,368 320.12,368 320.25,368 320.38,368 320.5,368 320.62,368 320.75,368 320.88,368 321,368 321.12,368 321.25,368 321.38,368 321.5,368 321.62,368 321.75,368 321.88,368 322,368 322.12,368 322.25,368 322.38,368 322.5,368 322.62,368 322.75,368 322.88,368 323,368 323.12,368 323.25,368 323.38,368 323.5,368 323.62,368 323.75,368 323.88,368 324,368 324.12,368 324.25,368 324.38,368 324.5,368 324.62,368"/>
<path d="M84.6 372.8V377.8M94.1 372.8V377.8M124.5 372.8V377.8M143 372.8V377.8M148.8 372.8V377.8M170.3 372.8V377.8M185.3 372.8V377.8M190.3 372.8V377.8M209.7 372.8V377.8M223.7 372.8V377.8M247.4 372.8V377.8M261.8 372.8V377.8M266.8 372.8V377.8M287.4 372.8V377.8M304.2 372.8V377.8M310.3 372.8V377.8" stroke="#7078d0" stroke-width="1.0" fill="none"/>
<path d="M84.6 379.1V384.6M94.1 379.1V384.6M124.5 379.1V384.6M143 379.1V384.6M148.8 379.1V384.6M170.3 379.1V384.6M185.3 379.1V384.6M190.3 379.1V384.6M209.7 379.1V384.6M223.7 379.1V384.6M247.4 379.1V384.6M261.8 379.1V384.6M266.8 379.1V384.6M287.4 379.1V384.6M304.2 379.1V384.6M310.3 379.1V384.6" stroke="#2020a0" stroke-width="1.05" fill="none"/>
<polyline points="68,397.3 68.2,397.5 68.5,397.7 68.8,397.7 69,397.7 69.2,397.9 69.5,397.3 69.8,397.3 70,397.3 70.2,397.7 70.5,397.6 70.8,397.6 71,397.7 71.2,397.6 71.5,397.3 71.8,397.3 72,397.2 72.2,397.3 72.5,397.7 72.8,397.6 73,397.4 73.2,397.2 73.5,397.6 73.8,397.7 74,397.6 74.2,397.7 74.5,397.5 74.8,397.3 75,397 75.2,397.3 75.5,397.5 75.8,397.7 76,398.1 76.2,397.9 76.5,397.7 76.8,397.6 77,397.3 77.2,397.5 77.5,397.8 77.8,397.7 78,397.7 78.2,397.6 78.5,397.5 78.8,397.4 79,397.3 79.2,397.3 79.5,397.3 79.8,397.4 80,397.3 80.2,397 80.5,396.8 80.8,397.2 81,397.3 81.2,397.3 81.5,397.3 81.8,397.4 82,397.9 82.2,397.8 82.5,397.5 82.8,397.6 83,397.3 83.2,397.1 83.5,396.2 83.8,395.1 84,394.7 84.2,395.2 84.5,396.2 84.8,397.1 85,398 85.2,398.8 85.5,399.9 85.8,400.9 86,400.7 86.2,399 86.5,397.6 86.8,396.4 87,396.1 87.2,396.2 87.5,396.6 87.8,397.2 88,397.3 88.2,397.3 88.5,397.3 88.8,397.3 89,397.5 89.2,397.7 89.5,397.9 89.8,397.8 90,397.4 90.2,397.3 90.5,397 90.8,396.8 91,396.9 91.2,397.2 91.5,397 91.8,396.4 92,396 92.2,395.6 92.5,395 92.8,394.5 93,394.2 93.2,394.2 93.5,393.8 93.8,393.7 94,393.3 94.2,393.5 94.5,393.8 94.8,394.1 95,394.6 95.2,395.1 95.5,395.4 95.8,395.5 96,396.1 96.2,396.5 96.5,396.9 96.8,397.1 97,397.3 97.2,397.6 97.5,397.9 97.8,397.7 98,397.8 98.2,397.8 98.5,398.1 98.8,397.8 99,397.8 99.2,397.8 99.5,398.3 99.8,398.6 100,398.5 100.2,398.4 100.5,398.2 100.8,398.3 101,398.2 101.2,398.3 101.5,398.3 101.8,397.9 102,398.4 102.2,398.5 102.5,398.3 102.8,398.2 103,398.1 103.2,398.4 103.5,398.1 103.8,398.4 104,398.2 104.2,398 104.5,398.2 104.8,398.1 105,398.5 105.2,398.4 105.5,398.1 105.8,398.4 106,398.4 106.2,398.5 106.5,398.3 106.8,398.1 107,398.4 107.2,398.5 107.5,398.6 107.8,398.4 108,398.5 108.2,398.1 108.5,398.2 108.8,398.3 109,398.3 109.2,397.9 109.5,397.9 109.8,398 110,398 110.2,398.1 110.5,398.3 110.8,398.1 111,398.3 111.2,398.5 111.5,398.5 111.8,398.2 112,398.1 112.2,398.1 112.5,397.9 112.8,397.9 113,398.3 113.2,397.9 113.5,397.9 113.8,397.8 114,397.8 114.2,397.7 114.5,397.9 114.8,397.7 115,397.7 115.2,397.7 115.5,397.6 115.8,397.8 116,397.6 116.2,397.7 116.5,397.8 116.8,398 117,397.8 117.2,398 117.5,397.9 117.8,397.7 118,397.8 118.2,397.6 118.5,397.4 118.8,397.5 119,397.5 119.2,397.7 119.5,397.8 119.8,397.5 120,397.5 120.2,397.4 120.5,397.5 120.8,397.2 121,397.2 121.2,397.3 121.5,397.1 121.8,396.9 122,397.2 122.2,397.2 122.5,396.9 122.8,396.6 123,396.6 123.2,396.9 123.5,396.8 123.8,396.4 124,395.1 124.2,390 124.5,385.8 124.8,390 125,397.1 125.2,402.4 125.5,403.1 125.8,399.4 126,397 126.2,396.7 126.5,396.8 126.8,396.6 127,396.5 127.2,396.8 127.5,397.1 127.8,397.1 128,397.1 128.2,396.9 128.5,397.2 128.8,397.3 129,397.3 129.2,397.2 129.5,397.1 129.8,397.1 130,397.7 130.2,397.9 130.5,397.7 130.8,397.4 131,397.4 131.2,397.5 131.5,398.2 131.8,397.8 132,397.5 132.2,397.3 132.5,397.6 132.8,397.7 133,397.6 133.2,397.6 133.5,397.5 133.8,397.7 134,397.5 134.2,397.6 134.5,397.1 134.8,397.2 135,397.8 135.2,397.5 135.5,397.3 135.8,397.2 136,397.5 136.2,397 136.5,397.2 136.8,397 137,397.1 137.2,397.2 137.5,397.5 137.8,397.6 138,397.7 138.2,397.8 138.5,397.7 138.8,397.4 139,397.3 139.2,397.5 139.5,397.5 139.8,397.4 140,397.6 140.2,397.7 140.5,397.5 140.8,397.1 141,397.2 141.2,397.4 141.5,397.4 141.8,397.1 142,397 142.2,396.7 142.5,396.5 142.8,396.5 143,397.1 143.2,397.8 143.5,398.2 143.8,398.7 144,398.7 144.2,398.5 144.5,398 144.8,397.7 145,397.6 145.2,397.4 145.5,397.3 145.8,397.4 146,397.4 146.2,397.6 146.5,397.3 146.8,397.1 147,397.2 147.2,397.3 147.5,397.2 147.8,397.3 148,397.1 148.2,397 148.5,396.5 148.8,396.8 149,397.2 149.2,397.8 149.5,398 149.8,398 150,397.8 150.2,397.5 150.5,397.5 150.8,397.5 151,397.4 151.2,397.6 151.5,397.6 151.8,397.4 152,397.6 152.2,397.3 152.5,397.6 152.8,397.6 153,397.4 153.2,397.4 153.5,397.5 153.8,397.7 154,397.5 154.2,397.3 154.5,397.6 154.8,397.4 155,397.5 155.2,397.4 155.5,397.2 155.8,397.1 156,397.2 156.2,397.3 156.5,397.8 156.8,397.9 157,397.6 157.2,397.6 157.5,397.6 157.8,397.6 158,397.4 158.2,397.5 158.5,397.6 158.8,397.3 159,397.3 159.2,397.5 159.5,397.4 159.8,397.6 160,397.4 160.2,397.3 160.5,397.3 160.8,397.6 161,397.5 161.2,397.5 161.5,397.5 161.8,397.5 162,397.4 162.2,397.8 162.5,397.7 162.8,397.6 163,397.6 163.2,397.6 163.5,397.3 163.8,397.2 164,397.4 164.2,397.3 164.5,397.7 164.8,397.6 165,397.5 165.2,397.4 165.5,397.6 165.8,397.5 166,397.3 166.2,397.3 166.5,397.5 166.8,397.6 167,397.5 167.2,397.5 167.5,397.5 167.8,397.5 168,397.4 168.2,397.6 168.5,397.8 168.8,397.7 169,397.5 169.2,397.3 169.5,397.2 169.8,397.5 170,398.3 170.2,399.3 170.5,400.4 170.8,400.6 171,399.9 171.2,398.8 171.5,398.3 171.8,397.8 172,397.9 172.2,397.9 172.5,397.9 172.8,397.5 173,397.3 173.2,397.4 173.5,397.2 173.8,397.5 174,397.4 174.2,397.5 174.5,397.2 174.8,397.5 175,397.4 175.2,397.6 175.5,397.5 175.8,397.4 176,397.2 176.2,397.5 176.5,397.4 176.8,397.4 177,397.5 177.2,397.6 177.5,397.8 177.8,397.9 178,397.4 178.2,397.1 178.5,397.2 178.8,397.4 179,397.5 179.2,397.7 179.5,397.7 179.8,397.6 180,397.6 180.2,397.8 180.5,397.7 180.8,397.4 181,397.4 181.2,397.7 181.5,397.6 181.8,397.6 182,397.5 182.2,397.1 182.5,397 182.8,397.2 183,397.4 183.2,397.2 183.5,397.2 183.8,397.1 184,397.5 184.2,397.5 184.5,397.9 184.8,397.9 185,398.1 185.2,398.1 185.5,398.9 185.8,399.3 186,399.2 186.2,398.5 186.5,397.9 186.8,397.8 187,397.8 187.2,397.9 187.5,397.6 187.8,397.1 188,397.1 188.2,397.4 188.5,397.4 188.8,397.8 189,398.3 189.2,398.9 189.5,400.2 189.8,401.8 190,402.9 190.2,402.7 190.5,401.3 190.8,399.7 191,398.5 191.2,397.8 191.5,397.3 191.8,397.2 192,396.9 192.2,397.1 192.5,397.6 192.8,397.9 193,398 193.2,397.8 193.5,397.6 193.8,397.5 194,397.4 194.2,397.3 194.5,397.5 194.8,397.7 195,397.5 195.2,397.5 195.5,397.5 195.8,397.6 196,397.6 196.2,397.7 196.5,397.5 196.8,397.4 197,397.7 197.2,397.5 197.5,397.2 197.8,397.3 198,397.4 198.2,397.6 198.5,397.5 198.8,397.5 199,397.5 199.2,397.5 199.5,397.5 199.8,397.8 200,397.7 200.2,397.6 200.5,397.3 200.8,397.2 201,397.2 201.2,397.4 201.5,397.6 201.8,397.5 202,397.2 202.2,397.3 202.5,397.4 202.8,397.7 203,397.7 203.2,397.4 203.5,397.3 203.8,397.4 204,397.4 204.2,397.4 204.5,397.3 204.8,397.3 205,397.3 205.2,397.4 205.5,397.4 205.8,397.2 206,397.6 206.2,397.6 206.5,397.3 206.8,397.2 207,397 207.2,397.1 207.5,397.1 207.8,397 208,397.4 208.2,397.3 208.5,397 208.8,396.7 209,396 209.2,394.9 209.5,394.5 209.8,395.4 210,397.4 210.2,399.7 210.5,400.8 210.8,400.4 211,398.8 211.2,398 211.5,397.4 211.8,397.4 212,397.5 212.2,397.4 212.5,397.5 212.8,397.5 213,397.3 213.2,397.3 213.5,397.3 213.8,397.2 214,397.3 214.2,397.3 214.5,397.3 214.8,397.1 215,397.1 215.2,397.5 215.5,397.4 215.8,397.8 216,397.7 216.2,397.6 216.5,397.7 216.8,397.8 217,397.5 217.2,397.1 217.5,397.2 217.8,397.2 218,397.5 218.2,397.5 218.5,397.7 218.8,397.5 219,397.6 219.2,397.4 219.5,397.7 219.8,397.4 220,397.3 220.2,397.3 220.5,397.7 220.8,397.6 221,397.3 221.2,397 221.5,397.2 221.8,397.5 222,397.6 222.2,397.5 222.5,397.5 222.8,397.6 223,397.8 223.2,397.9 223.5,397.7 223.8,397.4 224,397.2 224.2,397.2 224.5,397.1 224.8,397.3 225,397.2 225.2,397.6 225.5,397.4 225.8,397.4 226,397.1 226.2,397.4 226.5,397.2 226.8,397.3 227,397.4 227.2,397.4 227.5,397.3 227.8,397.3 228,397.3 228.2,397.3 228.5,397.3 228.8,397.3 229,397.2 229.2,397.4 229.5,397.7 229.8,397.4 230,397.5 230.2,397.6 230.5,397.7 230.8,397.6 231,397.4 231.2,397.4 231.5,397.1 231.8,397 232,397.3 232.2,397.5 232.5,397.4 232.8,397.2 233,397.4 233.2,397.4 233.5,397.3 233.8,397.1 234,397.7 234.2,397.9 234.5,397.9 234.8,397.8 235,397.5 235.2,397.4 235.5,397.4 235.8,397.6 236,397.6 236.2,397.7 236.5,397.6 236.8,397.7 237,397.5 237.2,397.5 237.5,397.5 237.8,397.3 238,397.4 238.2,397.5 238.5,397.8 238.8,397.6 239,397.5 239.2,397.5 239.5,397.4 239.8,397.4 240,397.5 240.2,397.2 240.5,397.2 240.8,397.3 241,397.3 241.2,397.4 241.5,397.6 241.8,397.5 242,397.5 242.2,397.3 242.5,397.5 242.8,397.7 243,397.5 243.2,397.4 243.5,397.5 243.8,397.6 244,397.9 244.2,397.8 244.5,397.5 244.8,397.5 245,397.7 245.2,397.8 245.5,397.7 245.8,397.5 246,397.5 246.2,396.9 246.5,396.2 246.8,395.7 247,396.1 247.2,397.1 247.5,398.1 247.8,398.5 248,398 248.2,397.5 248.5,397.6 248.8,397.6 249,397.5 249.2,397.7 249.5,397.5 249.8,397.4 250,397.4 250.2,397.3 250.5,397.5 250.8,397.5 251,397.6 251.2,397.7 251.5,397.6 251.8,397.4 252,397.6 252.2,397.6 252.5,397.5 252.8,397.6 253,397.6 253.2,397.5 253.5,397.6 253.8,397.4 254,397.4 254.2,397.4 254.5,397.3 254.8,397.3 255,397.5 255.2,397.4 255.5,397.3 255.8,397.5 256,397.8 256.2,397.8 256.5,397.7 256.8,397.7 257,397.7 257.2,397.5 257.5,397.2 257.8,397.2 258,397.1 258.2,397.2 258.5,397.3 258.8,397.5 259,397.5 259.2,397.4 259.5,397.4 259.8,397.5 260,397.2 260.2,397.5 260.5,397.5 260.8,397.3 261,396.9 261.2,396.5 261.5,396.4 261.8,396.3 262,396.6 262.2,396.7 262.5,397.1 262.8,397.4 263,397.6 263.2,397.8 263.5,397.6 263.8,397.6 264,397.5 264.2,397.4 264.5,397.6 264.8,397.7 265,397.9 265.2,398 265.5,397.8 265.8,397.7 266,397.4 266.2,397.8 266.5,398.5 266.8,399 267,399.2 267.2,398.9 267.5,398.5 267.8,398.1 268,397.6 268.2,397.5 268.5,397.7 268.8,398.1 269,397.9 269.2,397.5 269.5,397.2 269.8,397.2 270,397.3 270.2,397.4 270.5,397.3 270.8,397.5 271,397.5 271.2,397.3 271.5,397.3 271.8,397.5 272,397.4 272.2,397.4 272.5,397.2 272.8,397.6 273,397.6 273.2,397.3 273.5,397.5 273.8,397.3 274,397.7 274.2,397.7 274.5,397.8 274.8,397.5 275,397.3 275.2,397.3 275.5,397.1 275.8,397.1 276,397.2 276.2,397.5 276.5,397.4 276.8,397.5 277,397.5 277.2,397.6 277.5,397.6 277.8,397.6 278,397.7 278.2,397.7 278.5,397.5 278.8,397.5 279,397.5 279.2,397.8 279.5,398.1 279.8,397.7 280,397.4 280.2,397.1 280.5,397.2 280.8,397.2 281,397.2 281.2,397.3 281.5,397.5 281.8,397.5 282,397.6 282.2,397.6 282.5,397.6 282.8,397.3 283,397 283.2,397.2 283.5,397.4 283.8,397.8 284,397.7 284.2,397.2 284.5,397.5 284.8,397.7 285,397.9 285.2,397.4 285.5,397.4 285.8,397.3 286,397.3 286.2,396.4 286.5,395.9 286.8,396 287,396.3 287.2,397.4 287.5,398.3 287.8,399.4 288,399.2 288.2,399.1 288.5,398.3 288.8,397.8 289,397.5 289.2,397.8 289.5,397.5 289.8,397.4 290,397.5 290.2,397.6 290.5,397.7 290.8,397.6 291,397.4 291.2,397.7 291.5,397.4 291.8,397.5 292,397.3 292.2,397.6 292.5,397.6 292.8,397.4 293,397.3 293.2,397.6 293.5,397.2 293.8,397.1 294,397.1 294.2,397.6 294.5,397.6 294.8,397.7 295,397.6 295.2,398 295.5,397.8 295.8,397.7 296,397.8 296.2,397.5 296.5,397.4 296.8,397.4 297,397.3 297.2,397.3 297.5,397.4 297.8,397.4 298,397.3 298.2,397.5 298.5,397.5 298.8,397.8 299,398 299.2,397.9 299.5,397.8 299.8,397.9 300,397.7 300.2,397.6 300.5,397.7 300.8,397.6 301,397.9 301.2,397.7 301.5,397.6 301.8,397.4 302,397.4 302.2,397.6 302.5,397.8 302.8,397.4 303,397.2 303.2,396.8 303.5,396.4 303.8,395.6 304,394.9 304.2,394.5 304.5,394.5 304.8,395.1 305,396.1 305.2,396.6 305.5,397.1 305.8,397.3 306,397.4 306.2,397.6 306.5,397.6 306.8,397.3 307,397.3 307.2,397.3 307.5,397.2 307.8,397 308,396.9 308.2,396.6 308.5,396.3 308.8,395.9 309,395.3 309.2,395.3 309.5,395.1 309.8,395.2 310,395.8 310.2,395.9 310.5,396.1 310.8,396.2 311,396.2 311.2,396.5 311.5,397 311.8,397.5 312,397.5 312.2,397.8 312.5,397.6 312.8,397.5 313,397.5 313.2,397.8 313.5,398 313.8,397.9 314,397.7 314.2,397.6 314.5,397.2 314.8,397.3 315,397.2 315.2,397.7 315.5,397.9 315.8,397.6 316,397.5 316.2,397.6 316.5,397.5 316.8,397.5 317,397.4 317.2,397.3 317.5,397.3 317.8,397.4 318,397.3 318.2,397.3 318.5,397.4 318.8,397.6 319,397.8 319.2,397.7 319.5,397.9 319.8,398 320,398 320.2,397.9 320.5,398.1 320.8,398 321,397.9 321.2,397.9 321.5,397.8 321.8,397.9 322,397.5 322.2,397.4 322.5,397.4 322.8,397.4 323,397.4 323.2,397.6 323.5,397.5 323.8,397.4 324,397.3 324.2,397.3 324.5,397.3" fill="none" stroke="#1f7f1f" stroke-width="1.1" stroke-linejoin="round"/>
<path d="M68.5 233V227M113 233V227M157.5 233V227M202 233V227M246.6 233V227M290.8 233V227M68.5 407V401M113 407V401M157.5 407V401M202 407V401M246.6 407V401M290.8 407V401M65 79.5H70.8M65 119.3H70.8M65 159H70.8M65 198.6H70.8M65 263.7H70.8M65 300.3H70.8M65 336.9H70.8M65 373.5H70.8" stroke="#000" stroke-width="1.15" fill="none"/>
<rect x="65" y="56.5" width="263" height="350.5" fill="none" stroke="#111" stroke-width="1.2"/>
<path d="M65 233H328" stroke="#111" stroke-width="1.6" fill="none"/>
<text x="68.5" y="421.2" text-anchor="middle" class="t">20</text><text x="113" y="421.2" text-anchor="middle" class="t">40</text><text x="157.5" y="421.2" text-anchor="middle" class="t">60</text><text x="202" y="421.2" text-anchor="middle" class="t">80</text><text x="246.6" y="421.2" text-anchor="middle" class="t">100</text><text x="290.8" y="421.2" text-anchor="middle" class="t">120</text>
<text x="80.2" y="74.7" class="s">(a)</text>
<text x="75.8" y="253.6" class="s">(b)</text>
<text x="207.6" y="78.9" class="s">Paramagnetic (450 K)</text>
<text x="212.3" y="260.4" class="s">Ferromagnetic (300K)</text>
<text x="170.3" y="439.6" class="t">2θ<tspan style="font-family:'Liberation Serif',serif;font-size:10.95px;stroke:none"> (degree)</tspan></text>
<text transform="translate(49.8 270.6) rotate(-90)" style="font-size:11.25px">intensity (arb. unit)</text>
</svg>
</body></html>
